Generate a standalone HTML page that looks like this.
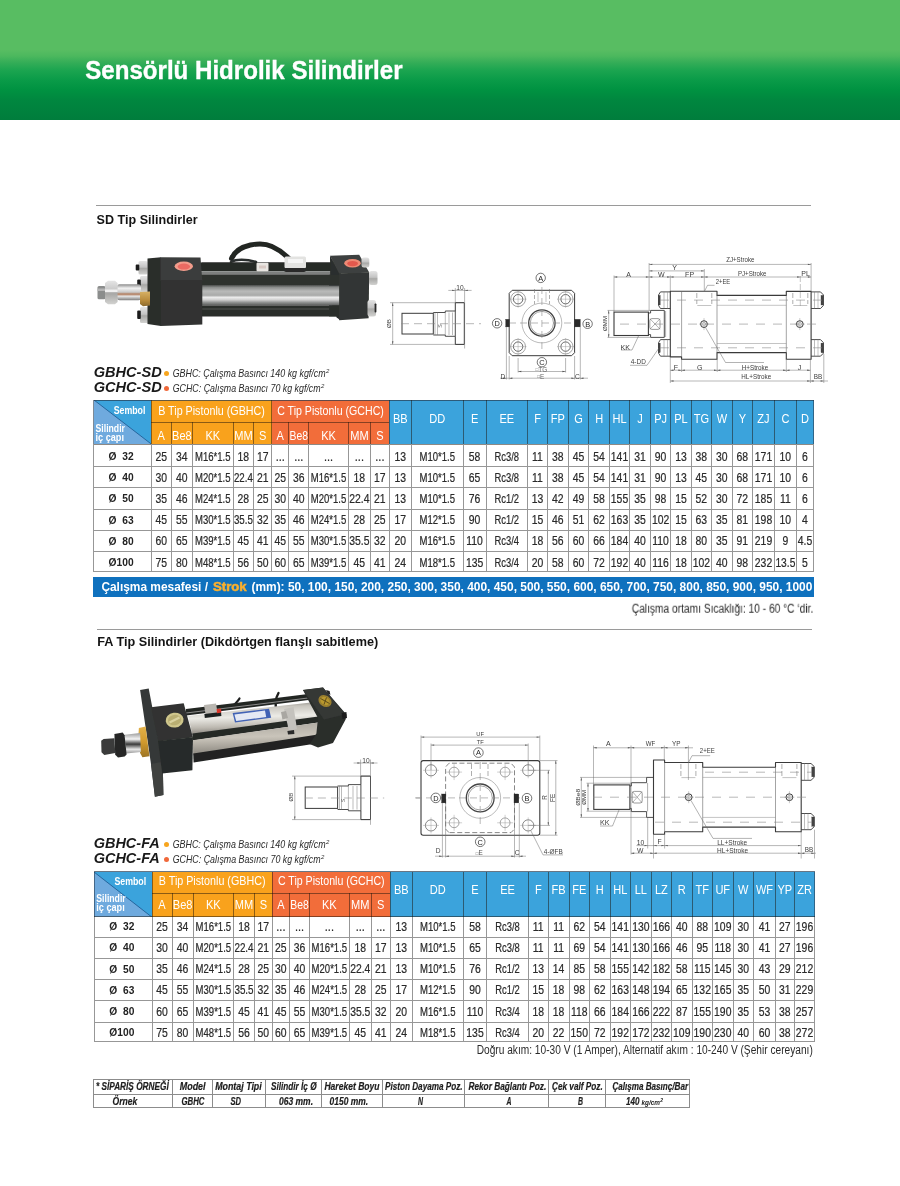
<!DOCTYPE html>
<html lang="tr">
<head>
<meta charset="utf-8">
<title>Sensörlü Hidrolik Silindirler</title>
<style>
html,body{margin:0;padding:0;background:#fff;}
body{width:900px;height:1186px;position:relative;overflow:hidden;font-family:"Liberation Sans",sans-serif;}
.t{position:absolute;white-space:nowrap;display:block;}
.b{position:absolute;display:block;}
.hdr{position:absolute;left:0;top:0;width:900px;height:120px;background:linear-gradient(to bottom,#58bd62 0px,#58bd62 50px,#4cb85e 56px,#36ae58 62px,#1ca550 70px,#0a9b48 80px,#009241 90px,#00873f 100px,#007d3c 120px);}
svg text{font-family:"Liberation Sans",sans-serif;}
.g{will-change:transform;}
.n{-webkit-text-stroke:0.22px #2a2a2a;}
.page{position:absolute;left:0;top:0;width:900px;height:1186px;overflow:hidden;background:#fff;}
</style>
</head>
<body>
<div class="page g">
<div class="hdr"></div>

<h1 style="margin:0;font-weight:normal"><span class="t" style="left:85px;top:54px;font-size:25.4px;line-height:30px;color:#fff;font-weight:bold;transform:translate(0.20px,0.50px) scaleX(0.949);transform-origin:0 0;-webkit-text-stroke:0.35px #fff;">Sensörlü Hidrolik Silindirler</span></h1>
<div class="b" style="left:96.00px;top:204.80px;width:715.00px;height:1.00px;background:#9a9a9a;"></div>
<span class="t" style="left:96px;top:211px;font-size:13px;line-height:16px;color:#141414;font-weight:bold;transform:translate(0.60px,0.50px) scaleX(0.966);transform-origin:0 0;">SD Tip Silindirler</span>
<svg class="b" style="left:0;top:0" width="900" height="1186" viewBox="0 0 900 1186">
<defs>
<filter id="bl1" x="-5%" y="-10%" width="110%" height="120%"><feGaussianBlur stdDeviation="0.55"/></filter>
<linearGradient id="tube1" x1="0" y1="0" x2="0" y2="1">
<stop offset="0" stop-color="#4a4c4b"/><stop offset="0.12" stop-color="#8c8e8d"/><stop offset="0.3" stop-color="#b9bab9"/><stop offset="0.5" stop-color="#a9aaa9"/><stop offset="0.6" stop-color="#ececec"/><stop offset="0.72" stop-color="#d0d0d0"/><stop offset="0.85" stop-color="#8f9190"/><stop offset="1" stop-color="#555756"/></linearGradient>
<linearGradient id="chr1" x1="0" y1="0" x2="0" y2="1">
<stop offset="0" stop-color="#8a8a8a"/><stop offset="0.25" stop-color="#f2f2f2"/><stop offset="0.5" stop-color="#c9c9c9"/><stop offset="0.62" stop-color="#b07a5a"/><stop offset="0.75" stop-color="#e6e6e6"/><stop offset="1" stop-color="#7d7d7d"/></linearGradient>
<linearGradient id="nut1" x1="0" y1="0" x2="0" y2="1">
<stop offset="0" stop-color="#e4e4e4"/><stop offset="0.45" stop-color="#c4c4c4"/><stop offset="0.55" stop-color="#a8a8a6"/><stop offset="1" stop-color="#d2d2d0"/></linearGradient>
<linearGradient id="brs1" x1="0" y1="0" x2="0" y2="1">
<stop offset="0" stop-color="#d8b266"/><stop offset="0.6" stop-color="#b98b3c"/><stop offset="1" stop-color="#8c6a2c"/></linearGradient>
</defs>
<g filter="url(#bl1)">
<path d="M231.5 258.5 C 238 243.5, 262 241.5, 272 246.5 C 281 250.5, 285 255, 288.5 258" fill="none" stroke="#232524" stroke-width="5" stroke-linecap="round"/>
<path d="M231 262 C 236 259, 246 259, 256 262" fill="none" stroke="#2c2e2d" stroke-width="2.6" stroke-linecap="round"/>
<rect x="200.0" y="262.2" width="135.0" height="9.1" rx="2.0" fill="#262927" />
<rect x="200.0" y="271.3" width="136.0" height="4.2" rx="0.0" fill="#7d7f7e" />
<rect x="200.0" y="274.8" width="138.0" height="11.0" rx="0.0" fill="#2e312f" />
<rect x="201.0" y="285.0" width="139.0" height="20.6" rx="0.0" fill="url(#tube1)" />
<rect x="201.0" y="305.4" width="139.0" height="11.0" rx="1.5" fill="#2a2d2b" />
<rect x="201.0" y="308.0" width="139.0" height="2.0" rx="0.0" fill="#3c3f3d" />
<rect x="256.5" y="262.8" width="12.0" height="8.4" rx="1.0" fill="#e9e6e2" />
<rect x="259.0" y="265.5" width="7.0" height="3.0" rx="0.0" fill="#d8c9c4" />
<rect x="284.5" y="256.5" width="21.5" height="11.8" rx="1.5" fill="#e3e3e1" />
<rect x="288.0" y="259.0" width="15.0" height="4.0" rx="0.0" fill="#f5f5f5" />
<rect x="284.0" y="268.0" width="22.0" height="4.0" rx="2.0" fill="#2a2c2b" />
<rect x="138.5" y="261.0" width="9.0" height="13.5" rx="1.5" fill="url(#nut1)" />
<rect x="135.7" y="264.5" width="3.6" height="6.0" rx="1.0" fill="#1e1f1f" />
<rect x="140.0" y="276.0" width="8.5" height="16.0" rx="1.5" fill="url(#nut1)" />
<rect x="137.2" y="279.5" width="3.6" height="8.5" rx="1.0" fill="#1e1f1f" />
<rect x="140.0" y="307.0" width="8.5" height="16.0" rx="1.5" fill="url(#nut1)" />
<rect x="137.2" y="310.5" width="3.6" height="8.5" rx="1.0" fill="#1e1f1f" />
<polygon points="147.5,258.5 161.0,257.3 161.0,326.0 147.5,324.0" fill="#2a2d2b" />
<polygon points="160.6,257.3 200.5,257.5 202.3,281.0 160.6,281.0" fill="#3b3e3c" />
<polygon points="160.6,280.0 202.3,280.0 202.3,324.5 160.6,326.0" fill="#303331" />
<ellipse cx="183.8" cy="266.3" rx="9.2" ry="4.7" fill="#f29c8c" />
<ellipse cx="183.9" cy="266.6" rx="6.2" ry="3.0" fill="#ea6a62" />
<polygon points="330.0,255.8 340.8,273.3 340.0,320.0 336.7,317.5 330.3,300.0" fill="#2c2f2d" />
<rect x="329.0" y="285.0" width="10.6" height="20.6" rx="0.0" fill="url(#tube1)" />
<rect x="329.0" y="305.4" width="10.6" height="11.0" rx="0.0" fill="#2a2d2b" />
<rect x="329.0" y="274.8" width="10.6" height="10.8" rx="0.0" fill="#2e312f" />
<polygon points="339.2,273.3 369.2,272.5 368.6,318.3 339.2,320.2" fill="#333634" />
<polygon points="330.0,255.8 359.2,254.7 369.4,272.7 339.2,273.6" fill="#3e413f" />
<ellipse cx="352.5" cy="263.3" rx="8.3" ry="4.2" fill="#ee8a74" />
<ellipse cx="352.6" cy="263.6" rx="5.4" ry="2.6" fill="#e3584e" />
<rect x="361.5" y="257.5" width="7.8" height="10.0" rx="2.5" fill="url(#nut1)" />
<rect x="369.0" y="271.0" width="8.5" height="14.0" rx="2.5" fill="url(#nut1)" />
<rect x="367.5" y="300.0" width="8.5" height="16.5" rx="2.5" fill="url(#nut1)" />
<rect x="374.6" y="303.5" width="1.8" height="9.0" rx="0.8" fill="#2a2a2a" />
<rect x="117.0" y="284.2" width="24.0" height="16.0" rx="2.5" fill="url(#chr1)" />
<rect x="97.5" y="286.0" width="8.0" height="13.3" rx="1.5" fill="#8b8d8c" />
<rect x="97.5" y="288.5" width="8.0" height="2.5" rx="0.0" fill="#b5b5b5" />
<polygon points="105.0,283.0 108.0,280.8 115.0,280.8 117.6,283.0 117.6,302.0 115.0,304.2 108.0,304.2 105.0,302.0" fill="url(#nut1)" />
<rect x="105.0" y="289.5" width="12.6" height="2.5" rx="0.0" fill="#f0f0f0" />
<polygon points="140.0,292.0 150.0,291.4 150.0,305.5 143.0,306.2 140.0,304.0" fill="url(#brs1)" />
</g>
</svg>
<svg class="b g" style="left:0;top:0" width="900" height="1186" viewBox="0 0 900 1186" >
<line x1="390.0" y1="302.7" x2="464.0" y2="302.7" stroke="#6e6e6e" stroke-width="0.50"/>
<line x1="390.0" y1="344.4" x2="464.0" y2="344.4" stroke="#6e6e6e" stroke-width="0.50"/>
<line x1="392.7" y1="302.7" x2="392.7" y2="344.4" stroke="#6e6e6e" stroke-width="0.50"/>
<polygon points="392.7,302.7 392.0,305.9 393.4,305.9" fill="#555"/>
<polygon points="392.7,344.4 392.0,341.2 393.4,341.2" fill="#555"/>
<text x="390.6" y="323.5" font-size="6.2" text-anchor="middle" fill="#3c3c3c" transform="rotate(-90 390.6 323.5)">ØB</text>
<rect x="402.0" y="313.3" width="31.3" height="20.7" rx="0.0" fill="none" stroke="#3a3a3a" stroke-width="1.00"/>
<polyline points="433.3,312.5 445.3,312.5 445.3,311.0 455.3,311.0 455.3,336.3 445.3,336.3 445.3,335.0 433.3,335.0" fill="none" stroke="#3a3a3a" stroke-width="0.90" stroke-linejoin="round"/>
<line x1="435.0" y1="312.5" x2="435.0" y2="335.0" stroke="#777" stroke-width="0.50"/>
<line x1="437.5" y1="312.5" x2="437.5" y2="335.0" stroke="#777" stroke-width="0.50"/>
<line x1="445.3" y1="312.5" x2="445.3" y2="335.0" stroke="#777" stroke-width="0.50"/>
<line x1="449.0" y1="312.5" x2="449.0" y2="335.0" stroke="#777" stroke-width="0.50"/>
<line x1="452.5" y1="312.5" x2="452.5" y2="335.0" stroke="#777" stroke-width="0.50"/>
<polyline points="455.3,311.0 455.3,302.7 464.3,302.7 464.3,344.4 455.3,344.4 455.3,336.3" fill="none" stroke="#3a3a3a" stroke-width="1.00" stroke-linejoin="round"/>
<line x1="455.3" y1="288.0" x2="455.3" y2="302.7" stroke="#6e6e6e" stroke-width="0.50"/>
<line x1="464.6" y1="288.0" x2="464.6" y2="348.5" stroke="#6e6e6e" stroke-width="0.50"/>
<line x1="448.3" y1="290.4" x2="471.6" y2="290.4" stroke="#6e6e6e" stroke-width="0.50"/>
<polygon points="455.3,290.4 452.1,289.7 452.1,291.1" fill="#555"/>
<polygon points="464.6,290.4 467.8,289.7 467.8,291.1" fill="#555"/>
<text x="460.0" y="289.9" font-size="6.6" text-anchor="middle" fill="#3c3c3c">10</text>
<line x1="401.0" y1="323.7" x2="481.0" y2="323.7" stroke="#888" stroke-width="0.60" stroke-dasharray="8 5"/>
<text x="441.5" y="326.0" font-size="5.2" text-anchor="middle" fill="#555" transform="rotate(-90 441.5 326.0)">S</text>
<polygon points="512.2,290.3 571.6,290.3 574.6,293.3 574.6,352.7 571.6,355.7 512.2,355.7 509.2,352.7 509.2,293.3" fill="none" stroke="#3a3a3a" stroke-width="1.00" stroke-linejoin="round"/>
<circle cx="518.1" cy="299.2" r="7.4" fill="none" stroke="#666" stroke-width="0.60"/>
<circle cx="518.1" cy="299.2" r="4.7" fill="none" stroke="#444" stroke-width="0.80"/>
<line x1="509.6" y1="299.2" x2="526.6" y2="299.2" stroke="#888" stroke-width="0.40"/>
<line x1="518.1" y1="290.7" x2="518.1" y2="307.7" stroke="#888" stroke-width="0.40"/>
<circle cx="565.6" cy="299.2" r="7.4" fill="none" stroke="#666" stroke-width="0.60"/>
<circle cx="565.6" cy="299.2" r="4.7" fill="none" stroke="#444" stroke-width="0.80"/>
<line x1="557.1" y1="299.2" x2="574.1" y2="299.2" stroke="#888" stroke-width="0.40"/>
<line x1="565.6" y1="290.7" x2="565.6" y2="307.7" stroke="#888" stroke-width="0.40"/>
<circle cx="518.1" cy="346.6" r="7.4" fill="none" stroke="#666" stroke-width="0.60"/>
<circle cx="518.1" cy="346.6" r="4.7" fill="none" stroke="#444" stroke-width="0.80"/>
<line x1="509.6" y1="346.6" x2="526.6" y2="346.6" stroke="#888" stroke-width="0.40"/>
<line x1="518.1" y1="338.1" x2="518.1" y2="355.1" stroke="#888" stroke-width="0.40"/>
<circle cx="565.6" cy="346.6" r="7.4" fill="none" stroke="#666" stroke-width="0.60"/>
<circle cx="565.6" cy="346.6" r="4.7" fill="none" stroke="#444" stroke-width="0.80"/>
<line x1="557.1" y1="346.6" x2="574.1" y2="346.6" stroke="#888" stroke-width="0.40"/>
<line x1="565.6" y1="338.1" x2="565.6" y2="355.1" stroke="#888" stroke-width="0.40"/>
<circle cx="541.9" cy="323.0" r="19.9" fill="none" stroke="#777" stroke-width="0.50"/>
<circle cx="541.9" cy="323.0" r="13.2" fill="none" stroke="#444" stroke-width="1.30"/>
<circle cx="541.9" cy="323.0" r="11.6" fill="none" stroke="#666" stroke-width="0.60"/>
<line x1="509.0" y1="323.0" x2="575.0" y2="323.0" stroke="#888" stroke-width="0.60" stroke-dasharray="7 4"/>
<line x1="541.9" y1="287.0" x2="541.9" y2="352.0" stroke="#888" stroke-width="0.60" stroke-dasharray="7 4"/>
<line x1="534.5" y1="289.0" x2="534.5" y2="304.0" stroke="#777" stroke-width="0.60" stroke-dasharray="4 2"/>
<line x1="549.5" y1="289.0" x2="549.5" y2="304.0" stroke="#777" stroke-width="0.60" stroke-dasharray="4 2"/>
<line x1="538.0" y1="292.0" x2="538.0" y2="302.0" stroke="#888" stroke-width="0.50"/>
<line x1="546.0" y1="292.0" x2="546.0" y2="302.0" stroke="#888" stroke-width="0.50"/>
<rect x="505.7" y="319.3" width="3.7" height="7.6" rx="0.0" fill="#2a2a2a" stroke="#222" stroke-width="0.30"/>
<rect x="574.8" y="319.3" width="5.5" height="7.6" rx="0.0" fill="#2a2a2a" stroke="#222" stroke-width="0.30"/>
<circle cx="540.7" cy="277.9" r="4.7" fill="#fff" stroke="#3a3a3a" stroke-width="0.70"/>
<text x="540.7" y="280.6" font-size="7.4" text-anchor="middle" fill="#222">A</text>
<circle cx="497.1" cy="323.3" r="4.7" fill="#fff" stroke="#3a3a3a" stroke-width="0.70"/>
<text x="497.1" y="326.0" font-size="7.4" text-anchor="middle" fill="#222">D</text>
<circle cx="587.6" cy="323.8" r="4.7" fill="#fff" stroke="#3a3a3a" stroke-width="0.70"/>
<text x="587.6" y="326.5" font-size="7.4" text-anchor="middle" fill="#222">B</text>
<circle cx="541.9" cy="362.2" r="4.7" fill="#fff" stroke="#3a3a3a" stroke-width="0.70"/>
<text x="541.9" y="364.9" font-size="7.4" text-anchor="middle" fill="#222">C</text>
<line x1="518.1" y1="358.0" x2="518.1" y2="372.5" stroke="#6e6e6e" stroke-width="0.50"/>
<line x1="565.6" y1="358.0" x2="565.6" y2="372.5" stroke="#6e6e6e" stroke-width="0.50"/>
<line x1="509.2" y1="356.0" x2="509.2" y2="379.5" stroke="#6e6e6e" stroke-width="0.50"/>
<line x1="574.6" y1="356.0" x2="574.6" y2="379.5" stroke="#6e6e6e" stroke-width="0.50"/>
<line x1="506.4" y1="327.0" x2="506.4" y2="379.5" stroke="#6e6e6e" stroke-width="0.50"/>
<line x1="580.3" y1="327.0" x2="580.3" y2="379.5" stroke="#6e6e6e" stroke-width="0.50"/>
<line x1="518.1" y1="371.5" x2="565.6" y2="371.5" stroke="#6e6e6e" stroke-width="0.50"/>
<polygon points="518.1,371.5 521.3,370.8 521.3,372.2" fill="#555"/>
<polygon points="565.6,371.5 562.4,370.8 562.4,372.2" fill="#555"/>
<line x1="500.0" y1="378.2" x2="588.0" y2="378.2" stroke="#6e6e6e" stroke-width="0.50"/>
<polygon points="509.2,378.2 512.4,377.5 512.4,378.9" fill="#555"/>
<polygon points="574.6,378.2 571.4,377.5 571.4,378.9" fill="#555"/>
<polygon points="506.4,378.2 503.2,377.5 503.2,378.9" fill="#555"/>
<polygon points="580.3,378.2 583.5,377.5 583.5,378.9" fill="#555"/>
<text x="541.4" y="371.9" font-size="6.4" text-anchor="middle" fill="#666"><tspan font-size="4.6" dy="-0.6">□</tspan><tspan dy="0.6">TG</tspan></text>
<text x="540.7" y="378.5" font-size="6.4" text-anchor="middle" fill="#666"><tspan font-size="4.6" dy="-0.6">□</tspan><tspan dy="0.6">E</tspan></text>
<text x="503.0" y="378.5" font-size="6.6" text-anchor="middle" fill="#3c3c3c">D</text>
<text x="577.4" y="378.7" font-size="6.6" text-anchor="middle" fill="#3c3c3c">C</text>
<rect x="614.0" y="312.1" width="34.4" height="23.4" rx="0.0" fill="none" stroke="#3a3a3a" stroke-width="1.10"/>
<line x1="607.5" y1="310.4" x2="650.0" y2="310.4" stroke="#6e6e6e" stroke-width="0.50"/>
<line x1="607.5" y1="337.4" x2="650.0" y2="337.4" stroke="#6e6e6e" stroke-width="0.50"/>
<line x1="608.7" y1="310.4" x2="608.7" y2="337.4" stroke="#6e6e6e" stroke-width="0.50"/>
<polygon points="608.7,310.4 608.0,313.6 609.4,313.6" fill="#555"/>
<polygon points="608.7,337.4 608.0,334.2 609.4,334.2" fill="#555"/>
<text x="606.6" y="323.5" font-size="5.8" text-anchor="middle" fill="#3c3c3c" textLength="15.0" lengthAdjust="spacingAndGlyphs" transform="rotate(-90 606.6 323.5)">ØMM</text>
<polyline points="648.4,313.0 650.6,313.0 650.6,310.4 664.3,310.4 664.3,337.4 650.6,337.4 650.6,334.6 648.4,334.6" fill="none" stroke="#3a3a3a" stroke-width="0.90" stroke-linejoin="round"/>
<rect x="649.8" y="318.6" width="10.2" height="10.8" rx="2.0" fill="none" stroke="#555" stroke-width="0.60"/>
<line x1="650.0" y1="318.8" x2="660.0" y2="329.2" stroke="#666" stroke-width="0.50"/>
<line x1="650.0" y1="329.2" x2="660.0" y2="318.8" stroke="#666" stroke-width="0.50"/>
<line x1="665.6" y1="311.0" x2="665.6" y2="337.0" stroke="#777" stroke-width="0.60"/>
<polygon points="670.3,291.2 717.0,291.2 717.0,295.4 786.3,295.4 786.3,291.4 811.1,291.4 811.1,359.2 786.3,359.2 786.3,352.6 717.0,352.6 717.0,359.2 681.6,359.2 681.6,356.9 670.3,356.9" fill="none" stroke="#3a3a3a" stroke-width="1.10" stroke-linejoin="round"/>
<line x1="681.6" y1="291.2" x2="681.6" y2="356.9" stroke="#666" stroke-width="0.60"/>
<line x1="717.0" y1="295.4" x2="717.0" y2="352.6" stroke="#666" stroke-width="0.60"/>
<line x1="786.3" y1="295.4" x2="786.3" y2="352.6" stroke="#666" stroke-width="0.60"/>
<line x1="717.0" y1="305.3" x2="786.3" y2="305.3" stroke="#888" stroke-width="0.50"/>
<line x1="717.0" y1="343.5" x2="786.3" y2="343.5" stroke="#888" stroke-width="0.50"/>
<polyline points="670.3,291.9 660.5,291.9 658.6,294.9 658.6,305.5 660.5,308.5 670.3,308.5" fill="none" stroke="#3a3a3a" stroke-width="0.90" stroke-linejoin="round"/>
<rect x="658.3" y="295.4" width="1.9" height="9.6" rx="0.0" fill="#444" stroke="#333" stroke-width="0.30"/>
<line x1="664.0" y1="291.9" x2="664.0" y2="308.5" stroke="#777" stroke-width="0.50"/>
<line x1="667.5" y1="291.9" x2="667.5" y2="308.5" stroke="#888" stroke-width="0.50"/>
<polyline points="811.1,291.9 820.5,291.9 823.4,294.9 823.4,305.5 820.5,308.5 811.1,308.5" fill="none" stroke="#3a3a3a" stroke-width="0.90" stroke-linejoin="round"/>
<rect x="821.0" y="295.4" width="2.4" height="9.6" rx="0.0" fill="#444" stroke="#333" stroke-width="0.30"/>
<line x1="814.5" y1="291.9" x2="814.5" y2="308.5" stroke="#777" stroke-width="0.50"/>
<line x1="818.0" y1="291.9" x2="818.0" y2="308.5" stroke="#888" stroke-width="0.50"/>
<polyline points="670.3,339.6 660.5,339.6 658.6,342.6 658.6,353.2 660.5,356.2 670.3,356.2" fill="none" stroke="#3a3a3a" stroke-width="0.90" stroke-linejoin="round"/>
<rect x="658.3" y="343.1" width="1.9" height="9.6" rx="0.0" fill="#444" stroke="#333" stroke-width="0.30"/>
<line x1="664.0" y1="339.6" x2="664.0" y2="356.2" stroke="#777" stroke-width="0.50"/>
<line x1="667.5" y1="339.6" x2="667.5" y2="356.2" stroke="#888" stroke-width="0.50"/>
<polyline points="811.1,339.6 820.5,339.6 823.4,342.6 823.4,353.2 820.5,356.2 811.1,356.2" fill="none" stroke="#3a3a3a" stroke-width="0.90" stroke-linejoin="round"/>
<rect x="821.0" y="343.1" width="2.4" height="9.6" rx="0.0" fill="#444" stroke="#333" stroke-width="0.30"/>
<line x1="814.5" y1="339.6" x2="814.5" y2="356.2" stroke="#777" stroke-width="0.50"/>
<line x1="818.0" y1="339.6" x2="818.0" y2="356.2" stroke="#888" stroke-width="0.50"/>
<circle cx="704.0" cy="324.1" r="3.4" fill="none" stroke="#3a3a3a" stroke-width="1.00"/>
<circle cx="704.0" cy="324.1" r="1.8" fill="none" stroke="#777" stroke-width="0.40"/>
<line x1="704.0" y1="318.1" x2="704.0" y2="330.1" stroke="#777" stroke-width="0.40"/>
<line x1="699.0" y1="324.1" x2="709.0" y2="324.1" stroke="#777" stroke-width="0.40"/>
<circle cx="799.8" cy="324.1" r="3.4" fill="none" stroke="#3a3a3a" stroke-width="1.00"/>
<circle cx="799.8" cy="324.1" r="1.8" fill="none" stroke="#777" stroke-width="0.40"/>
<line x1="799.8" y1="318.1" x2="799.8" y2="330.1" stroke="#777" stroke-width="0.40"/>
<line x1="794.8" y1="324.1" x2="804.8" y2="324.1" stroke="#777" stroke-width="0.40"/>
<line x1="696.8" y1="293.0" x2="696.8" y2="304.0" stroke="#777" stroke-width="0.60" stroke-dasharray="5 2"/>
<line x1="711.8" y1="293.0" x2="711.8" y2="304.0" stroke="#777" stroke-width="0.60" stroke-dasharray="5 2"/>
<line x1="697.3" y1="305.5" x2="711.3" y2="305.5" stroke="#888" stroke-width="0.50"/>
<line x1="792.8" y1="293.0" x2="792.8" y2="304.0" stroke="#777" stroke-width="0.60" stroke-dasharray="5 2"/>
<line x1="807.8" y1="293.0" x2="807.8" y2="304.0" stroke="#777" stroke-width="0.60" stroke-dasharray="5 2"/>
<line x1="793.3" y1="305.5" x2="807.3" y2="305.5" stroke="#888" stroke-width="0.50"/>
<line x1="620.0" y1="324.1" x2="816.0" y2="324.1" stroke="#888" stroke-width="0.60" stroke-dasharray="9 8"/>
<line x1="660.0" y1="300.1" x2="822.0" y2="300.1" stroke="#888" stroke-width="0.60" stroke-dasharray="9 8"/>
<line x1="660.0" y1="347.8" x2="822.0" y2="347.8" stroke="#888" stroke-width="0.60" stroke-dasharray="9 8"/>
<line x1="614.0" y1="275.5" x2="614.0" y2="312.0" stroke="#6e6e6e" stroke-width="0.50"/>
<line x1="649.1" y1="263.0" x2="649.1" y2="310.4" stroke="#6e6e6e" stroke-width="0.50"/>
<line x1="670.3" y1="275.5" x2="670.3" y2="291.0" stroke="#6e6e6e" stroke-width="0.50"/>
<line x1="704.3" y1="269.0" x2="704.3" y2="291.0" stroke="#6e6e6e" stroke-width="0.50"/>
<line x1="811.1" y1="263.0" x2="811.1" y2="291.4" stroke="#6e6e6e" stroke-width="0.50"/>
<line x1="800.3" y1="276.0" x2="800.3" y2="308.0" stroke="#888" stroke-width="0.50" stroke-dasharray="6 2"/>
<line x1="614.0" y1="277.0" x2="811.1" y2="277.0" stroke="#6e6e6e" stroke-width="0.50"/>
<polygon points="614.0,277.0 617.2,276.3 617.2,277.7" fill="#555"/>
<polygon points="649.1,277.0 645.9,276.3 645.9,277.7" fill="#555"/>
<polygon points="649.1,277.0 652.3,276.3 652.3,277.7" fill="#555"/>
<polygon points="670.3,277.0 667.1,276.3 667.1,277.7" fill="#555"/>
<polygon points="670.3,277.0 673.5,276.3 673.5,277.7" fill="#555"/>
<polygon points="704.3,277.0 701.1,276.3 701.1,277.7" fill="#555"/>
<polygon points="704.3,277.0 707.5,276.3 707.5,277.7" fill="#555"/>
<polygon points="811.1,277.0 807.9,276.3 807.9,277.7" fill="#555"/>
<polygon points="800.3,277.0 797.1,276.3 797.1,277.7" fill="#555"/>
<line x1="649.1" y1="270.9" x2="704.3" y2="270.9" stroke="#6e6e6e" stroke-width="0.50"/>
<polygon points="649.1,270.9 652.3,270.2 652.3,271.6" fill="#555"/>
<polygon points="704.3,270.9 701.1,270.2 701.1,271.6" fill="#555"/>
<line x1="649.1" y1="264.4" x2="811.1" y2="264.4" stroke="#6e6e6e" stroke-width="0.50"/>
<polygon points="649.1,264.4 652.3,263.7 652.3,265.1" fill="#555"/>
<polygon points="811.1,264.4 807.9,263.7 807.9,265.1" fill="#555"/>
<text x="628.5" y="276.5" font-size="7.0" text-anchor="middle" fill="#3c3c3c">A</text>
<text x="661.4" y="276.5" font-size="7.0" text-anchor="middle" fill="#3c3c3c">W</text>
<text x="689.6" y="276.5" font-size="7.0" text-anchor="middle" fill="#3c3c3c">FP</text>
<text x="674.7" y="270.3" font-size="7.0" text-anchor="middle" fill="#3c3c3c">Y</text>
<text x="740.3" y="262.1" font-size="7.0" text-anchor="middle" fill="#3c3c3c" textLength="28.2" lengthAdjust="spacingAndGlyphs">ZJ+Stroke</text>
<text x="752.2" y="276.2" font-size="7.0" text-anchor="middle" fill="#3c3c3c" textLength="28.6" lengthAdjust="spacingAndGlyphs">PJ+Stroke</text>
<text x="805.6" y="276.2" font-size="7.0" text-anchor="middle" fill="#3c3c3c">PL</text>
<text x="723.0" y="284.2" font-size="6.8" text-anchor="middle" fill="#3c3c3c" textLength="14.5" lengthAdjust="spacingAndGlyphs">2+EE</text>
<polyline points="704.6,291.0 707.5,285.3 714.5,285.3" fill="none" stroke="#666" stroke-width="0.50" stroke-linejoin="round"/>
<line x1="670.3" y1="357.0" x2="670.3" y2="383.0" stroke="#6e6e6e" stroke-width="0.50"/>
<line x1="681.6" y1="359.2" x2="681.6" y2="372.0" stroke="#6e6e6e" stroke-width="0.50"/>
<line x1="717.2" y1="359.3" x2="717.2" y2="372.0" stroke="#6e6e6e" stroke-width="0.50"/>
<line x1="786.3" y1="359.3" x2="786.3" y2="372.0" stroke="#6e6e6e" stroke-width="0.50"/>
<line x1="810.4" y1="359.3" x2="810.4" y2="383.0" stroke="#6e6e6e" stroke-width="0.50"/>
<line x1="823.8" y1="354.0" x2="823.8" y2="383.0" stroke="#6e6e6e" stroke-width="0.50"/>
<line x1="670.3" y1="370.2" x2="810.4" y2="370.2" stroke="#6e6e6e" stroke-width="0.50"/>
<polygon points="670.3,370.2 673.5,369.5 673.5,370.9" fill="#555"/>
<polygon points="681.6,370.2 678.4,369.5 678.4,370.9" fill="#555"/>
<polygon points="681.6,370.2 684.8,369.5 684.8,370.9" fill="#555"/>
<polygon points="717.2,370.2 714.0,369.5 714.0,370.9" fill="#555"/>
<polygon points="717.2,370.2 720.4,369.5 720.4,370.9" fill="#555"/>
<polygon points="786.3,370.2 783.1,369.5 783.1,370.9" fill="#555"/>
<polygon points="786.3,370.2 789.5,369.5 789.5,370.9" fill="#555"/>
<polygon points="810.4,370.2 807.2,369.5 807.2,370.9" fill="#555"/>
<line x1="670.3" y1="381.0" x2="828.0" y2="381.0" stroke="#6e6e6e" stroke-width="0.50"/>
<polygon points="670.3,381.0 673.5,380.3 673.5,381.7" fill="#555"/>
<polygon points="810.4,381.0 807.2,380.3 807.2,381.7" fill="#555"/>
<polygon points="810.4,381.0 813.6,380.3 813.6,381.7" fill="#555"/>
<polygon points="823.8,381.0 820.6,380.3 820.6,381.7" fill="#555"/>
<text x="675.8" y="370.1" font-size="7.0" text-anchor="middle" fill="#3c3c3c">F</text>
<text x="699.7" y="370.1" font-size="7.0" text-anchor="middle" fill="#3c3c3c">G</text>
<text x="755.0" y="369.5" font-size="7.0" text-anchor="middle" fill="#3c3c3c" textLength="26.5" lengthAdjust="spacingAndGlyphs">H+Stroke</text>
<text x="799.6" y="369.9" font-size="7.0" text-anchor="middle" fill="#3c3c3c">J</text>
<text x="756.2" y="378.5" font-size="7.0" text-anchor="middle" fill="#3c3c3c" textLength="30.0" lengthAdjust="spacingAndGlyphs">HL+Stroke</text>
<text x="818.0" y="379.4" font-size="6.6" text-anchor="middle" fill="#3c3c3c" textLength="8.5" lengthAdjust="spacingAndGlyphs">BB</text>
<polyline points="638.5,336.0 632.0,350.0 621.0,350.0" fill="none" stroke="#666" stroke-width="0.50" stroke-linejoin="round"/>
<text x="625.3" y="350.4" font-size="6.8" text-anchor="middle" fill="#3c3c3c" textLength="9.5" lengthAdjust="spacingAndGlyphs">KK</text>
<polyline points="659.0,348.0 647.0,365.3 630.0,365.3" fill="none" stroke="#666" stroke-width="0.50" stroke-linejoin="round"/>
<text x="638.3" y="364.1" font-size="6.8" text-anchor="middle" fill="#3c3c3c" textLength="15.0" lengthAdjust="spacingAndGlyphs">4-DD</text>
<polyline points="705.5,327.5 725.5,362.5 764.0,362.5" fill="none" stroke="#666" stroke-width="0.50" stroke-linejoin="round"/>
</svg>
<span class="t" style="left:93px;top:363px;font-size:15.2px;line-height:18px;color:#1a1a1a;font-weight:bold;font-style:italic;transform:translate(0.70px,0.30px) scaleX(0.959);transform-origin:0 0;">GBHC-SD</span>
<span class="t" style="left:93px;top:378px;font-size:15.2px;line-height:18px;color:#1a1a1a;font-weight:bold;font-style:italic;transform:translate(0.70px,0.40px) scaleX(0.959);transform-origin:0 0;">GCHC-SD</span>
<div class="b" style="left:164.3px;top:371.1px;width:5px;height:5px;border-radius:50%;background:#f7a51e"></div>
<div class="b" style="left:164.3px;top:386.2px;width:5px;height:5px;border-radius:50%;background:#f0683a"></div>
<span class="t" style="left:172px;top:368px;font-size:10.3px;line-height:12px;color:#2a2a2a;font-style:italic;transform:translate(0.70px,0.30px) scaleX(0.862);transform-origin:0 0;">GBHC: Çalışma Basıncı 140 kg kgf/cm</span>
<span class="t" style="left:326px;top:368px;font-size:6px;line-height:7px;color:#2a2a2a;font-style:italic;transform:translate(0.00px,0.00px) scaleX(1.000);transform-origin:0 0;">2</span>
<span class="t" style="left:172px;top:383px;font-size:10.3px;line-height:12px;color:#2a2a2a;font-style:italic;transform:translate(0.70px,0.40px) scaleX(0.859);transform-origin:0 0;">GCHC: Çalışma Basıncı 70 kg kgf/cm</span>
<span class="t" style="left:321px;top:383px;font-size:6px;line-height:7px;color:#2a2a2a;font-style:italic;transform:translate(0.00px,0.10px) scaleX(1.000);transform-origin:0 0;">2</span>
<div class="tbl" id="t1">
<div class="b" style="left:93.50px;top:400.00px;width:57.75px;height:44.40px;background:#3ba3dc;"></div>
<svg class="b" style="left:93.50px;top:400.00px" width="57.75" height="44.40" viewBox="0 0 57.75 44.40"><polygon points="0,0 57.75,44.40 0,44.40" fill="#6faade"/><line x1="0" y1="0" x2="57.75" y2="44.40" stroke="#1f5f96" stroke-width="0.9"/></svg>
<div class="b" style="left:151.25px;top:400.00px;width:120.50px;height:44.40px;background:#f9a21c;"></div>
<div class="b" style="left:271.75px;top:400.00px;width:117.50px;height:44.40px;background:#f26d3a;"></div>
<div class="b" style="left:389.25px;top:400.00px;width:424.50px;height:44.40px;background:#3ba3dc;"></div>
<div class="b" style="left:93.50px;top:399.50px;width:720.25px;height:1.00px;background:rgba(40,60,80,0.7);"></div>
<div class="b" style="left:151.25px;top:421.50px;width:238.00px;height:1.00px;background:rgba(30,20,10,0.5);"></div>
<div class="b" style="left:93.00px;top:400.00px;width:1.00px;height:44.40px;background:rgba(40,60,80,0.6);"></div>
<div class="b" style="left:150.75px;top:400.00px;width:1.00px;height:44.40px;background:rgba(30,20,10,0.5);"></div>
<div class="b" style="left:170.75px;top:422.00px;width:1.00px;height:22.40px;background:rgba(30,20,10,0.5);"></div>
<div class="b" style="left:192.00px;top:422.00px;width:1.00px;height:22.40px;background:rgba(30,20,10,0.5);"></div>
<div class="b" style="left:232.50px;top:422.00px;width:1.00px;height:22.40px;background:rgba(30,20,10,0.5);"></div>
<div class="b" style="left:253.25px;top:422.00px;width:1.00px;height:22.40px;background:rgba(30,20,10,0.5);"></div>
<div class="b" style="left:271.25px;top:400.00px;width:1.00px;height:44.40px;background:rgba(30,20,10,0.5);"></div>
<div class="b" style="left:288.25px;top:422.00px;width:1.00px;height:22.40px;background:rgba(30,20,10,0.5);"></div>
<div class="b" style="left:308.25px;top:422.00px;width:1.00px;height:22.40px;background:rgba(30,20,10,0.5);"></div>
<div class="b" style="left:347.75px;top:422.00px;width:1.00px;height:22.40px;background:rgba(30,20,10,0.5);"></div>
<div class="b" style="left:370.00px;top:422.00px;width:1.00px;height:22.40px;background:rgba(30,20,10,0.5);"></div>
<div class="b" style="left:388.75px;top:400.00px;width:1.00px;height:44.40px;background:rgba(30,20,10,0.5);"></div>
<div class="b" style="left:410.75px;top:400.00px;width:1.00px;height:44.40px;background:rgba(30,20,10,0.5);"></div>
<div class="b" style="left:462.75px;top:400.00px;width:1.00px;height:44.40px;background:rgba(30,20,10,0.5);"></div>
<div class="b" style="left:485.50px;top:400.00px;width:1.00px;height:44.40px;background:rgba(30,20,10,0.5);"></div>
<div class="b" style="left:527.00px;top:400.00px;width:1.00px;height:44.40px;background:rgba(30,20,10,0.5);"></div>
<div class="b" style="left:547.00px;top:400.00px;width:1.00px;height:44.40px;background:rgba(30,20,10,0.5);"></div>
<div class="b" style="left:567.75px;top:400.00px;width:1.00px;height:44.40px;background:rgba(30,20,10,0.5);"></div>
<div class="b" style="left:588.25px;top:400.00px;width:1.00px;height:44.40px;background:rgba(30,20,10,0.5);"></div>
<div class="b" style="left:609.00px;top:400.00px;width:1.00px;height:44.40px;background:rgba(30,20,10,0.5);"></div>
<div class="b" style="left:629.00px;top:400.00px;width:1.00px;height:44.40px;background:rgba(30,20,10,0.5);"></div>
<div class="b" style="left:650.00px;top:400.00px;width:1.00px;height:44.40px;background:rgba(30,20,10,0.5);"></div>
<div class="b" style="left:670.25px;top:400.00px;width:1.00px;height:44.40px;background:rgba(30,20,10,0.5);"></div>
<div class="b" style="left:690.75px;top:400.00px;width:1.00px;height:44.40px;background:rgba(30,20,10,0.5);"></div>
<div class="b" style="left:711.00px;top:400.00px;width:1.00px;height:44.40px;background:rgba(30,20,10,0.5);"></div>
<div class="b" style="left:731.75px;top:400.00px;width:1.00px;height:44.40px;background:rgba(30,20,10,0.5);"></div>
<div class="b" style="left:752.00px;top:400.00px;width:1.00px;height:44.40px;background:rgba(30,20,10,0.5);"></div>
<div class="b" style="left:774.00px;top:400.00px;width:1.00px;height:44.40px;background:rgba(30,20,10,0.5);"></div>
<div class="b" style="left:795.75px;top:400.00px;width:1.00px;height:44.40px;background:rgba(30,20,10,0.5);"></div>
<div class="b" style="left:813.25px;top:400.00px;width:1.00px;height:44.40px;background:rgba(40,60,80,0.6);"></div>
<div class="b" style="left:93.50px;top:443.90px;width:720.25px;height:1.00px;background:rgba(30,20,10,0.5);"></div>
<div class="b" style="left:93.00px;top:444.40px;width:1.00px;height:127.00px;background:#979797;"></div>
<div class="b" style="left:150.75px;top:444.40px;width:1.00px;height:127.00px;background:#979797;"></div>
<div class="b" style="left:170.75px;top:444.40px;width:1.00px;height:127.00px;background:#979797;"></div>
<div class="b" style="left:192.00px;top:444.40px;width:1.00px;height:127.00px;background:#979797;"></div>
<div class="b" style="left:232.50px;top:444.40px;width:1.00px;height:127.00px;background:#979797;"></div>
<div class="b" style="left:253.25px;top:444.40px;width:1.00px;height:127.00px;background:#979797;"></div>
<div class="b" style="left:271.25px;top:444.40px;width:1.00px;height:127.00px;background:#979797;"></div>
<div class="b" style="left:288.25px;top:444.40px;width:1.00px;height:127.00px;background:#979797;"></div>
<div class="b" style="left:308.25px;top:444.40px;width:1.00px;height:127.00px;background:#979797;"></div>
<div class="b" style="left:347.75px;top:444.40px;width:1.00px;height:127.00px;background:#979797;"></div>
<div class="b" style="left:370.00px;top:444.40px;width:1.00px;height:127.00px;background:#979797;"></div>
<div class="b" style="left:388.75px;top:444.40px;width:1.00px;height:127.00px;background:#979797;"></div>
<div class="b" style="left:410.75px;top:444.40px;width:1.00px;height:127.00px;background:#979797;"></div>
<div class="b" style="left:462.75px;top:444.40px;width:1.00px;height:127.00px;background:#979797;"></div>
<div class="b" style="left:485.50px;top:444.40px;width:1.00px;height:127.00px;background:#979797;"></div>
<div class="b" style="left:527.00px;top:444.40px;width:1.00px;height:127.00px;background:#979797;"></div>
<div class="b" style="left:547.00px;top:444.40px;width:1.00px;height:127.00px;background:#979797;"></div>
<div class="b" style="left:567.75px;top:444.40px;width:1.00px;height:127.00px;background:#979797;"></div>
<div class="b" style="left:588.25px;top:444.40px;width:1.00px;height:127.00px;background:#979797;"></div>
<div class="b" style="left:609.00px;top:444.40px;width:1.00px;height:127.00px;background:#979797;"></div>
<div class="b" style="left:629.00px;top:444.40px;width:1.00px;height:127.00px;background:#979797;"></div>
<div class="b" style="left:650.00px;top:444.40px;width:1.00px;height:127.00px;background:#979797;"></div>
<div class="b" style="left:670.25px;top:444.40px;width:1.00px;height:127.00px;background:#979797;"></div>
<div class="b" style="left:690.75px;top:444.40px;width:1.00px;height:127.00px;background:#979797;"></div>
<div class="b" style="left:711.00px;top:444.40px;width:1.00px;height:127.00px;background:#979797;"></div>
<div class="b" style="left:731.75px;top:444.40px;width:1.00px;height:127.00px;background:#979797;"></div>
<div class="b" style="left:752.00px;top:444.40px;width:1.00px;height:127.00px;background:#979797;"></div>
<div class="b" style="left:774.00px;top:444.40px;width:1.00px;height:127.00px;background:#979797;"></div>
<div class="b" style="left:795.75px;top:444.40px;width:1.00px;height:127.00px;background:#979797;"></div>
<div class="b" style="left:813.25px;top:444.40px;width:1.00px;height:127.00px;background:#979797;"></div>
<div class="b" style="left:93.00px;top:466.20px;width:721.25px;height:1.00px;background:#979797;"></div>
<div class="b" style="left:93.00px;top:487.10px;width:721.25px;height:1.00px;background:#979797;"></div>
<div class="b" style="left:93.00px;top:508.50px;width:721.25px;height:1.00px;background:#979797;"></div>
<div class="b" style="left:93.00px;top:529.50px;width:721.25px;height:1.00px;background:#979797;"></div>
<div class="b" style="left:93.00px;top:550.70px;width:721.25px;height:1.00px;background:#979797;"></div>
<div class="b" style="left:93.00px;top:570.90px;width:721.25px;height:1.00px;background:#979797;"></div>
<span class="t" style="left:106px;top:404px;font-size:10.8px;line-height:13px;color:#fff;font-weight:bold;transform:translate(0.44px,0.20px) scaleX(0.815);transform-origin:100% 0;">Sembol</span>
<span class="t" style="left:95px;top:423px;font-size:10.3px;line-height:12px;color:#fff;font-weight:bold;transform:translate(0.50px,0.20px) scaleX(0.845);transform-origin:0 0;">Silindir</span>
<span class="t" style="left:95px;top:431px;font-size:10.3px;line-height:12px;color:#fff;font-weight:bold;transform:translate(0.50px,0.80px) scaleX(0.889);transform-origin:0 0;">iç çapı</span>
<span class="t" style="left:146px;top:402px;font-size:13px;line-height:16px;color:#fff;transform:translate(0.84px,0.80px) scaleX(0.825);transform-origin:50% 0;">B Tip Pistonlu (GBHC)</span>
<span class="t" style="left:265px;top:402px;font-size:13px;line-height:16px;color:#fff;transform:translate(0.12px,0.80px) scaleX(0.816);transform-origin:50% 0;">C Tip Pistonlu (GCHC)</span>
<span class="t" style="left:156px;top:427px;font-size:13px;line-height:16px;color:#fff;transform:translate(0.91px,0.60px) scaleX(0.850);transform-origin:50% 0;">A</span>
<span class="t" style="left:170px;top:427px;font-size:13px;line-height:16px;color:#fff;transform:translate(0.31px,0.60px) scaleX(0.850);transform-origin:50% 0;">Be8</span>
<span class="t" style="left:204px;top:427px;font-size:13px;line-height:16px;color:#fff;transform:translate(0.08px,0.60px) scaleX(0.850);transform-origin:50% 0;">KK</span>
<span class="t" style="left:232px;top:427px;font-size:13px;line-height:16px;color:#fff;transform:translate(0.55px,0.60px) scaleX(0.850);transform-origin:50% 0;">MM</span>
<span class="t" style="left:258px;top:427px;font-size:13px;line-height:16px;color:#fff;transform:translate(0.41px,0.60px) scaleX(0.850);transform-origin:50% 0;">S</span>
<span class="t" style="left:275px;top:427px;font-size:13px;line-height:16px;color:#fff;transform:translate(0.91px,0.60px) scaleX(0.850);transform-origin:50% 0;">A</span>
<span class="t" style="left:287px;top:427px;font-size:13px;line-height:16px;color:#fff;transform:translate(0.18px,0.60px) scaleX(0.800);transform-origin:50% 0;">Be8</span>
<span class="t" style="left:319px;top:427px;font-size:13px;line-height:16px;color:#fff;transform:translate(0.83px,0.60px) scaleX(0.850);transform-origin:50% 0;">KK</span>
<span class="t" style="left:348px;top:427px;font-size:13px;line-height:16px;color:#fff;transform:translate(0.55px,0.60px) scaleX(0.850);transform-origin:50% 0;">MM</span>
<span class="t" style="left:375px;top:427px;font-size:13px;line-height:16px;color:#fff;transform:translate(0.54px,0.60px) scaleX(0.850);transform-origin:50% 0;">S</span>
<span class="t" style="left:391px;top:411px;font-size:13px;line-height:16px;color:#fff;transform:translate(0.58px,0.40px) scaleX(0.850);transform-origin:50% 0;">BB</span>
<span class="t" style="left:427px;top:411px;font-size:13px;line-height:16px;color:#fff;transform:translate(0.86px,0.40px) scaleX(0.850);transform-origin:50% 0;">DD</span>
<span class="t" style="left:470px;top:411px;font-size:13px;line-height:16px;color:#fff;transform:translate(0.29px,0.40px) scaleX(0.850);transform-origin:50% 0;">E</span>
<span class="t" style="left:498px;top:411px;font-size:13px;line-height:16px;color:#fff;transform:translate(0.08px,0.40px) scaleX(0.850);transform-origin:50% 0;">EE</span>
<span class="t" style="left:533px;top:411px;font-size:13px;line-height:16px;color:#fff;transform:translate(0.53px,0.40px) scaleX(0.850);transform-origin:50% 0;">F</span>
<span class="t" style="left:549px;top:411px;font-size:13px;line-height:16px;color:#fff;transform:translate(0.57px,0.40px) scaleX(0.850);transform-origin:50% 0;">FP</span>
<span class="t" style="left:573px;top:411px;font-size:13px;line-height:16px;color:#fff;transform:translate(0.44px,0.40px) scaleX(0.850);transform-origin:50% 0;">G</span>
<span class="t" style="left:594px;top:411px;font-size:13px;line-height:16px;color:#fff;transform:translate(0.43px,0.40px) scaleX(0.850);transform-origin:50% 0;">H</span>
<span class="t" style="left:611px;top:411px;font-size:13px;line-height:16px;color:#fff;transform:translate(0.19px,0.40px) scaleX(0.850);transform-origin:50% 0;">HL</span>
<span class="t" style="left:636px;top:411px;font-size:13px;line-height:16px;color:#fff;transform:translate(0.75px,0.40px) scaleX(0.850);transform-origin:50% 0;">J</span>
<span class="t" style="left:653px;top:411px;font-size:13px;line-height:16px;color:#fff;transform:translate(0.04px,0.40px) scaleX(0.850);transform-origin:50% 0;">PJ</span>
<span class="t" style="left:673px;top:411px;font-size:13px;line-height:16px;color:#fff;transform:translate(0.05px,0.40px) scaleX(0.850);transform-origin:50% 0;">PL</span>
<span class="t" style="left:692px;top:411px;font-size:13px;line-height:16px;color:#fff;transform:translate(0.35px,0.40px) scaleX(0.850);transform-origin:50% 0;">TG</span>
<span class="t" style="left:715px;top:411px;font-size:13px;line-height:16px;color:#fff;transform:translate(0.74px,0.40px) scaleX(0.850);transform-origin:50% 0;">W</span>
<span class="t" style="left:738px;top:411px;font-size:13px;line-height:16px;color:#fff;transform:translate(0.04px,0.40px) scaleX(0.850);transform-origin:50% 0;">Y</span>
<span class="t" style="left:756px;top:411px;font-size:13px;line-height:16px;color:#fff;transform:translate(0.28px,0.40px) scaleX(0.850);transform-origin:50% 0;">ZJ</span>
<span class="t" style="left:780px;top:411px;font-size:13px;line-height:16px;color:#fff;transform:translate(0.68px,0.40px) scaleX(0.850);transform-origin:50% 0;">C</span>
<span class="t" style="left:800px;top:411px;font-size:13px;line-height:16px;color:#fff;transform:translate(0.31px,0.40px) scaleX(0.850);transform-origin:50% 0;">D</span>
<span class="t" style="left:108px;top:451px;font-size:10.3px;line-height:12px;color:#222;font-weight:bold;transform:translate(0.48px,0.00px) scaleX(0.992);transform-origin:50% 0;white-space:pre;">Ø  32</span>
<span class="t n" style="left:154px;top:449px;font-size:12.2px;line-height:15px;color:#2a2a2a;transform:translate(0.46px,0.60px) scaleX(0.853);transform-origin:50% 0;">25</span>
<span class="t n" style="left:175px;top:449px;font-size:12.2px;line-height:15px;color:#2a2a2a;transform:translate(0.09px,0.60px) scaleX(0.853);transform-origin:50% 0;">34</span>
<span class="t n" style="left:190px;top:449px;font-size:12.2px;line-height:15px;color:#2a2a2a;transform:translate(0.03px,0.60px) scaleX(0.782);transform-origin:50% 0;">M16*1.5</span>
<span class="t n" style="left:236px;top:449px;font-size:12.2px;line-height:15px;color:#2a2a2a;transform:translate(0.59px,0.60px) scaleX(0.853);transform-origin:50% 0;">18</span>
<span class="t n" style="left:255px;top:449px;font-size:12.2px;line-height:15px;color:#2a2a2a;transform:translate(0.96px,0.60px) scaleX(0.853);transform-origin:50% 0;">17</span>
<span class="t n" style="left:275px;top:449px;font-size:12.2px;line-height:15px;color:#2a2a2a;transform:translate(0.17px,0.60px) scaleX(0.900);transform-origin:50% 0;">...</span>
<span class="t n" style="left:293px;top:449px;font-size:12.2px;line-height:15px;color:#2a2a2a;transform:translate(0.67px,0.60px) scaleX(0.900);transform-origin:50% 0;">...</span>
<span class="t n" style="left:323px;top:449px;font-size:12.2px;line-height:15px;color:#2a2a2a;transform:translate(0.42px,0.60px) scaleX(0.900);transform-origin:50% 0;">...</span>
<span class="t n" style="left:354px;top:449px;font-size:12.2px;line-height:15px;color:#2a2a2a;transform:translate(0.29px,0.60px) scaleX(0.900);transform-origin:50% 0;">...</span>
<span class="t n" style="left:374px;top:449px;font-size:12.2px;line-height:15px;color:#2a2a2a;transform:translate(0.79px,0.60px) scaleX(0.900);transform-origin:50% 0;">...</span>
<span class="t n" style="left:393px;top:449px;font-size:12.2px;line-height:15px;color:#2a2a2a;transform:translate(0.46px,0.60px) scaleX(0.853);transform-origin:50% 0;">13</span>
<span class="t n" style="left:414px;top:449px;font-size:12.2px;line-height:15px;color:#2a2a2a;transform:translate(0.53px,0.60px) scaleX(0.782);transform-origin:50% 0;">M10*1.5</span>
<span class="t n" style="left:467px;top:449px;font-size:12.2px;line-height:15px;color:#2a2a2a;transform:translate(0.84px,0.60px) scaleX(0.853);transform-origin:50% 0;">58</span>
<span class="t n" style="left:490px;top:449px;font-size:12.2px;line-height:15px;color:#2a2a2a;transform:translate(0.81px,0.60px) scaleX(0.770);transform-origin:50% 0;">Rc3/8</span>
<span class="t n" style="left:531px;top:449px;font-size:12.2px;line-height:15px;color:#2a2a2a;transform:translate(0.17px,0.60px) scaleX(0.853);transform-origin:50% 0;">11</span>
<span class="t n" style="left:551px;top:449px;font-size:12.2px;line-height:15px;color:#2a2a2a;transform:translate(0.09px,0.60px) scaleX(0.853);transform-origin:50% 0;">38</span>
<span class="t n" style="left:571px;top:449px;font-size:12.2px;line-height:15px;color:#2a2a2a;transform:translate(0.71px,0.60px) scaleX(0.853);transform-origin:50% 0;">45</span>
<span class="t n" style="left:592px;top:449px;font-size:12.2px;line-height:15px;color:#2a2a2a;transform:translate(0.34px,0.60px) scaleX(0.853);transform-origin:50% 0;">54</span>
<span class="t n" style="left:609px;top:449px;font-size:12.2px;line-height:15px;color:#2a2a2a;transform:translate(0.32px,0.60px) scaleX(0.853);transform-origin:50% 0;">141</span>
<span class="t n" style="left:633px;top:449px;font-size:12.2px;line-height:15px;color:#2a2a2a;transform:translate(0.21px,0.60px) scaleX(0.853);transform-origin:50% 0;">31</span>
<span class="t n" style="left:653px;top:449px;font-size:12.2px;line-height:15px;color:#2a2a2a;transform:translate(0.84px,0.60px) scaleX(0.853);transform-origin:50% 0;">90</span>
<span class="t n" style="left:674px;top:449px;font-size:12.2px;line-height:15px;color:#2a2a2a;transform:translate(0.21px,0.60px) scaleX(0.853);transform-origin:50% 0;">13</span>
<span class="t n" style="left:694px;top:449px;font-size:12.2px;line-height:15px;color:#2a2a2a;transform:translate(0.59px,0.60px) scaleX(0.853);transform-origin:50% 0;">38</span>
<span class="t n" style="left:715px;top:449px;font-size:12.2px;line-height:15px;color:#2a2a2a;transform:translate(0.09px,0.60px) scaleX(0.853);transform-origin:50% 0;">30</span>
<span class="t n" style="left:735px;top:449px;font-size:12.2px;line-height:15px;color:#2a2a2a;transform:translate(0.59px,0.60px) scaleX(0.853);transform-origin:50% 0;">68</span>
<span class="t n" style="left:753px;top:449px;font-size:12.2px;line-height:15px;color:#2a2a2a;transform:translate(0.32px,0.60px) scaleX(0.853);transform-origin:50% 0;">171</span>
<span class="t n" style="left:778px;top:449px;font-size:12.2px;line-height:15px;color:#2a2a2a;transform:translate(0.59px,0.60px) scaleX(0.853);transform-origin:50% 0;">10</span>
<span class="t n" style="left:801px;top:449px;font-size:12.2px;line-height:15px;color:#2a2a2a;transform:translate(0.61px,0.60px) scaleX(0.853);transform-origin:50% 0;">6</span>
<span class="t" style="left:108px;top:472px;font-size:10.3px;line-height:12px;color:#222;font-weight:bold;transform:translate(0.48px,0.22px) scaleX(0.992);transform-origin:50% 0;white-space:pre;">Ø  40</span>
<span class="t n" style="left:154px;top:470px;font-size:12.2px;line-height:15px;color:#2a2a2a;transform:translate(0.46px,0.82px) scaleX(0.853);transform-origin:50% 0;">30</span>
<span class="t n" style="left:175px;top:470px;font-size:12.2px;line-height:15px;color:#2a2a2a;transform:translate(0.09px,0.82px) scaleX(0.853);transform-origin:50% 0;">40</span>
<span class="t n" style="left:190px;top:470px;font-size:12.2px;line-height:15px;color:#2a2a2a;transform:translate(0.03px,0.82px) scaleX(0.782);transform-origin:50% 0;">M20*1.5</span>
<span class="t n" style="left:231px;top:470px;font-size:12.2px;line-height:15px;color:#2a2a2a;transform:translate(0.50px,0.82px) scaleX(0.798);transform-origin:50% 0;">22.4</span>
<span class="t n" style="left:255px;top:470px;font-size:12.2px;line-height:15px;color:#2a2a2a;transform:translate(0.96px,0.82px) scaleX(0.853);transform-origin:50% 0;">21</span>
<span class="t n" style="left:273px;top:470px;font-size:12.2px;line-height:15px;color:#2a2a2a;transform:translate(0.46px,0.82px) scaleX(0.853);transform-origin:50% 0;">25</span>
<span class="t n" style="left:291px;top:470px;font-size:12.2px;line-height:15px;color:#2a2a2a;transform:translate(0.96px,0.82px) scaleX(0.853);transform-origin:50% 0;">36</span>
<span class="t n" style="left:305px;top:470px;font-size:12.2px;line-height:15px;color:#2a2a2a;transform:translate(0.78px,0.82px) scaleX(0.782);transform-origin:50% 0;">M16*1.5</span>
<span class="t n" style="left:352px;top:470px;font-size:12.2px;line-height:15px;color:#2a2a2a;transform:translate(0.59px,0.82px) scaleX(0.853);transform-origin:50% 0;">18</span>
<span class="t n" style="left:373px;top:470px;font-size:12.2px;line-height:15px;color:#2a2a2a;transform:translate(0.09px,0.82px) scaleX(0.853);transform-origin:50% 0;">17</span>
<span class="t n" style="left:393px;top:470px;font-size:12.2px;line-height:15px;color:#2a2a2a;transform:translate(0.46px,0.82px) scaleX(0.853);transform-origin:50% 0;">13</span>
<span class="t n" style="left:414px;top:470px;font-size:12.2px;line-height:15px;color:#2a2a2a;transform:translate(0.53px,0.82px) scaleX(0.782);transform-origin:50% 0;">M10*1.5</span>
<span class="t n" style="left:467px;top:470px;font-size:12.2px;line-height:15px;color:#2a2a2a;transform:translate(0.84px,0.82px) scaleX(0.853);transform-origin:50% 0;">65</span>
<span class="t n" style="left:490px;top:470px;font-size:12.2px;line-height:15px;color:#2a2a2a;transform:translate(0.81px,0.82px) scaleX(0.770);transform-origin:50% 0;">Rc3/8</span>
<span class="t n" style="left:531px;top:470px;font-size:12.2px;line-height:15px;color:#2a2a2a;transform:translate(0.17px,0.82px) scaleX(0.853);transform-origin:50% 0;">11</span>
<span class="t n" style="left:551px;top:470px;font-size:12.2px;line-height:15px;color:#2a2a2a;transform:translate(0.09px,0.82px) scaleX(0.853);transform-origin:50% 0;">38</span>
<span class="t n" style="left:571px;top:470px;font-size:12.2px;line-height:15px;color:#2a2a2a;transform:translate(0.71px,0.82px) scaleX(0.853);transform-origin:50% 0;">45</span>
<span class="t n" style="left:592px;top:470px;font-size:12.2px;line-height:15px;color:#2a2a2a;transform:translate(0.34px,0.82px) scaleX(0.853);transform-origin:50% 0;">54</span>
<span class="t n" style="left:609px;top:470px;font-size:12.2px;line-height:15px;color:#2a2a2a;transform:translate(0.32px,0.82px) scaleX(0.853);transform-origin:50% 0;">141</span>
<span class="t n" style="left:633px;top:470px;font-size:12.2px;line-height:15px;color:#2a2a2a;transform:translate(0.21px,0.82px) scaleX(0.853);transform-origin:50% 0;">31</span>
<span class="t n" style="left:653px;top:470px;font-size:12.2px;line-height:15px;color:#2a2a2a;transform:translate(0.84px,0.82px) scaleX(0.853);transform-origin:50% 0;">90</span>
<span class="t n" style="left:674px;top:470px;font-size:12.2px;line-height:15px;color:#2a2a2a;transform:translate(0.21px,0.82px) scaleX(0.853);transform-origin:50% 0;">13</span>
<span class="t n" style="left:694px;top:470px;font-size:12.2px;line-height:15px;color:#2a2a2a;transform:translate(0.59px,0.82px) scaleX(0.853);transform-origin:50% 0;">45</span>
<span class="t n" style="left:715px;top:470px;font-size:12.2px;line-height:15px;color:#2a2a2a;transform:translate(0.09px,0.82px) scaleX(0.853);transform-origin:50% 0;">30</span>
<span class="t n" style="left:735px;top:470px;font-size:12.2px;line-height:15px;color:#2a2a2a;transform:translate(0.59px,0.82px) scaleX(0.853);transform-origin:50% 0;">68</span>
<span class="t n" style="left:753px;top:470px;font-size:12.2px;line-height:15px;color:#2a2a2a;transform:translate(0.32px,0.82px) scaleX(0.853);transform-origin:50% 0;">171</span>
<span class="t n" style="left:778px;top:470px;font-size:12.2px;line-height:15px;color:#2a2a2a;transform:translate(0.59px,0.82px) scaleX(0.853);transform-origin:50% 0;">10</span>
<span class="t n" style="left:801px;top:470px;font-size:12.2px;line-height:15px;color:#2a2a2a;transform:translate(0.61px,0.82px) scaleX(0.853);transform-origin:50% 0;">6</span>
<span class="t" style="left:108px;top:493px;font-size:10.3px;line-height:12px;color:#222;font-weight:bold;transform:translate(0.48px,0.44px) scaleX(0.992);transform-origin:50% 0;white-space:pre;">Ø  50</span>
<span class="t n" style="left:154px;top:492px;font-size:12.2px;line-height:15px;color:#2a2a2a;transform:translate(0.46px,0.04px) scaleX(0.853);transform-origin:50% 0;">35</span>
<span class="t n" style="left:175px;top:492px;font-size:12.2px;line-height:15px;color:#2a2a2a;transform:translate(0.09px,0.04px) scaleX(0.853);transform-origin:50% 0;">46</span>
<span class="t n" style="left:190px;top:492px;font-size:12.2px;line-height:15px;color:#2a2a2a;transform:translate(0.03px,0.04px) scaleX(0.782);transform-origin:50% 0;">M24*1.5</span>
<span class="t n" style="left:236px;top:492px;font-size:12.2px;line-height:15px;color:#2a2a2a;transform:translate(0.59px,0.04px) scaleX(0.853);transform-origin:50% 0;">28</span>
<span class="t n" style="left:255px;top:492px;font-size:12.2px;line-height:15px;color:#2a2a2a;transform:translate(0.96px,0.04px) scaleX(0.853);transform-origin:50% 0;">25</span>
<span class="t n" style="left:273px;top:492px;font-size:12.2px;line-height:15px;color:#2a2a2a;transform:translate(0.46px,0.04px) scaleX(0.853);transform-origin:50% 0;">30</span>
<span class="t n" style="left:291px;top:492px;font-size:12.2px;line-height:15px;color:#2a2a2a;transform:translate(0.96px,0.04px) scaleX(0.853);transform-origin:50% 0;">40</span>
<span class="t n" style="left:305px;top:492px;font-size:12.2px;line-height:15px;color:#2a2a2a;transform:translate(0.78px,0.04px) scaleX(0.782);transform-origin:50% 0;">M20*1.5</span>
<span class="t n" style="left:347px;top:492px;font-size:12.2px;line-height:15px;color:#2a2a2a;transform:translate(0.50px,0.04px) scaleX(0.853);transform-origin:50% 0;">22.4</span>
<span class="t n" style="left:373px;top:492px;font-size:12.2px;line-height:15px;color:#2a2a2a;transform:translate(0.09px,0.04px) scaleX(0.853);transform-origin:50% 0;">21</span>
<span class="t n" style="left:393px;top:492px;font-size:12.2px;line-height:15px;color:#2a2a2a;transform:translate(0.46px,0.04px) scaleX(0.853);transform-origin:50% 0;">13</span>
<span class="t n" style="left:414px;top:492px;font-size:12.2px;line-height:15px;color:#2a2a2a;transform:translate(0.53px,0.04px) scaleX(0.782);transform-origin:50% 0;">M10*1.5</span>
<span class="t n" style="left:467px;top:492px;font-size:12.2px;line-height:15px;color:#2a2a2a;transform:translate(0.84px,0.04px) scaleX(0.853);transform-origin:50% 0;">76</span>
<span class="t n" style="left:490px;top:492px;font-size:12.2px;line-height:15px;color:#2a2a2a;transform:translate(0.81px,0.04px) scaleX(0.770);transform-origin:50% 0;">Rc1/2</span>
<span class="t n" style="left:530px;top:492px;font-size:12.2px;line-height:15px;color:#2a2a2a;transform:translate(0.71px,0.04px) scaleX(0.853);transform-origin:50% 0;">13</span>
<span class="t n" style="left:551px;top:492px;font-size:12.2px;line-height:15px;color:#2a2a2a;transform:translate(0.09px,0.04px) scaleX(0.853);transform-origin:50% 0;">42</span>
<span class="t n" style="left:571px;top:492px;font-size:12.2px;line-height:15px;color:#2a2a2a;transform:translate(0.71px,0.04px) scaleX(0.853);transform-origin:50% 0;">49</span>
<span class="t n" style="left:592px;top:492px;font-size:12.2px;line-height:15px;color:#2a2a2a;transform:translate(0.34px,0.04px) scaleX(0.853);transform-origin:50% 0;">58</span>
<span class="t n" style="left:609px;top:492px;font-size:12.2px;line-height:15px;color:#2a2a2a;transform:translate(0.32px,0.04px) scaleX(0.853);transform-origin:50% 0;">155</span>
<span class="t n" style="left:633px;top:492px;font-size:12.2px;line-height:15px;color:#2a2a2a;transform:translate(0.21px,0.04px) scaleX(0.853);transform-origin:50% 0;">35</span>
<span class="t n" style="left:653px;top:492px;font-size:12.2px;line-height:15px;color:#2a2a2a;transform:translate(0.84px,0.04px) scaleX(0.853);transform-origin:50% 0;">98</span>
<span class="t n" style="left:674px;top:492px;font-size:12.2px;line-height:15px;color:#2a2a2a;transform:translate(0.21px,0.04px) scaleX(0.853);transform-origin:50% 0;">15</span>
<span class="t n" style="left:694px;top:492px;font-size:12.2px;line-height:15px;color:#2a2a2a;transform:translate(0.59px,0.04px) scaleX(0.853);transform-origin:50% 0;">52</span>
<span class="t n" style="left:715px;top:492px;font-size:12.2px;line-height:15px;color:#2a2a2a;transform:translate(0.09px,0.04px) scaleX(0.853);transform-origin:50% 0;">30</span>
<span class="t n" style="left:735px;top:492px;font-size:12.2px;line-height:15px;color:#2a2a2a;transform:translate(0.59px,0.04px) scaleX(0.853);transform-origin:50% 0;">72</span>
<span class="t n" style="left:753px;top:492px;font-size:12.2px;line-height:15px;color:#2a2a2a;transform:translate(0.32px,0.04px) scaleX(0.853);transform-origin:50% 0;">185</span>
<span class="t n" style="left:779px;top:492px;font-size:12.2px;line-height:15px;color:#2a2a2a;transform:translate(0.04px,0.04px) scaleX(0.853);transform-origin:50% 0;">11</span>
<span class="t n" style="left:801px;top:492px;font-size:12.2px;line-height:15px;color:#2a2a2a;transform:translate(0.61px,0.04px) scaleX(0.853);transform-origin:50% 0;">6</span>
<span class="t" style="left:108px;top:514px;font-size:10.3px;line-height:12px;color:#222;font-weight:bold;transform:translate(0.48px,0.66px) scaleX(0.992);transform-origin:50% 0;white-space:pre;">Ø  63</span>
<span class="t n" style="left:154px;top:513px;font-size:12.2px;line-height:15px;color:#2a2a2a;transform:translate(0.46px,0.26px) scaleX(0.853);transform-origin:50% 0;">45</span>
<span class="t n" style="left:175px;top:513px;font-size:12.2px;line-height:15px;color:#2a2a2a;transform:translate(0.09px,0.26px) scaleX(0.853);transform-origin:50% 0;">55</span>
<span class="t n" style="left:190px;top:513px;font-size:12.2px;line-height:15px;color:#2a2a2a;transform:translate(0.03px,0.26px) scaleX(0.782);transform-origin:50% 0;">M30*1.5</span>
<span class="t n" style="left:231px;top:513px;font-size:12.2px;line-height:15px;color:#2a2a2a;transform:translate(0.50px,0.26px) scaleX(0.798);transform-origin:50% 0;">35.5</span>
<span class="t n" style="left:255px;top:513px;font-size:12.2px;line-height:15px;color:#2a2a2a;transform:translate(0.96px,0.26px) scaleX(0.853);transform-origin:50% 0;">32</span>
<span class="t n" style="left:273px;top:513px;font-size:12.2px;line-height:15px;color:#2a2a2a;transform:translate(0.46px,0.26px) scaleX(0.853);transform-origin:50% 0;">35</span>
<span class="t n" style="left:291px;top:513px;font-size:12.2px;line-height:15px;color:#2a2a2a;transform:translate(0.96px,0.26px) scaleX(0.853);transform-origin:50% 0;">46</span>
<span class="t n" style="left:305px;top:513px;font-size:12.2px;line-height:15px;color:#2a2a2a;transform:translate(0.78px,0.26px) scaleX(0.782);transform-origin:50% 0;">M24*1.5</span>
<span class="t n" style="left:352px;top:513px;font-size:12.2px;line-height:15px;color:#2a2a2a;transform:translate(0.59px,0.26px) scaleX(0.853);transform-origin:50% 0;">28</span>
<span class="t n" style="left:373px;top:513px;font-size:12.2px;line-height:15px;color:#2a2a2a;transform:translate(0.09px,0.26px) scaleX(0.853);transform-origin:50% 0;">25</span>
<span class="t n" style="left:393px;top:513px;font-size:12.2px;line-height:15px;color:#2a2a2a;transform:translate(0.46px,0.26px) scaleX(0.853);transform-origin:50% 0;">17</span>
<span class="t n" style="left:414px;top:513px;font-size:12.2px;line-height:15px;color:#2a2a2a;transform:translate(0.53px,0.26px) scaleX(0.782);transform-origin:50% 0;">M12*1.5</span>
<span class="t n" style="left:467px;top:513px;font-size:12.2px;line-height:15px;color:#2a2a2a;transform:translate(0.84px,0.26px) scaleX(0.853);transform-origin:50% 0;">90</span>
<span class="t n" style="left:490px;top:513px;font-size:12.2px;line-height:15px;color:#2a2a2a;transform:translate(0.81px,0.26px) scaleX(0.770);transform-origin:50% 0;">Rc1/2</span>
<span class="t n" style="left:530px;top:513px;font-size:12.2px;line-height:15px;color:#2a2a2a;transform:translate(0.71px,0.26px) scaleX(0.853);transform-origin:50% 0;">15</span>
<span class="t n" style="left:551px;top:513px;font-size:12.2px;line-height:15px;color:#2a2a2a;transform:translate(0.09px,0.26px) scaleX(0.853);transform-origin:50% 0;">46</span>
<span class="t n" style="left:571px;top:513px;font-size:12.2px;line-height:15px;color:#2a2a2a;transform:translate(0.71px,0.26px) scaleX(0.853);transform-origin:50% 0;">51</span>
<span class="t n" style="left:592px;top:513px;font-size:12.2px;line-height:15px;color:#2a2a2a;transform:translate(0.34px,0.26px) scaleX(0.853);transform-origin:50% 0;">62</span>
<span class="t n" style="left:609px;top:513px;font-size:12.2px;line-height:15px;color:#2a2a2a;transform:translate(0.32px,0.26px) scaleX(0.853);transform-origin:50% 0;">163</span>
<span class="t n" style="left:633px;top:513px;font-size:12.2px;line-height:15px;color:#2a2a2a;transform:translate(0.21px,0.26px) scaleX(0.853);transform-origin:50% 0;">35</span>
<span class="t n" style="left:650px;top:513px;font-size:12.2px;line-height:15px;color:#2a2a2a;transform:translate(0.45px,0.26px) scaleX(0.853);transform-origin:50% 0;">102</span>
<span class="t n" style="left:674px;top:513px;font-size:12.2px;line-height:15px;color:#2a2a2a;transform:translate(0.21px,0.26px) scaleX(0.853);transform-origin:50% 0;">15</span>
<span class="t n" style="left:694px;top:513px;font-size:12.2px;line-height:15px;color:#2a2a2a;transform:translate(0.59px,0.26px) scaleX(0.853);transform-origin:50% 0;">63</span>
<span class="t n" style="left:715px;top:513px;font-size:12.2px;line-height:15px;color:#2a2a2a;transform:translate(0.09px,0.26px) scaleX(0.853);transform-origin:50% 0;">35</span>
<span class="t n" style="left:735px;top:513px;font-size:12.2px;line-height:15px;color:#2a2a2a;transform:translate(0.59px,0.26px) scaleX(0.853);transform-origin:50% 0;">81</span>
<span class="t n" style="left:753px;top:513px;font-size:12.2px;line-height:15px;color:#2a2a2a;transform:translate(0.32px,0.26px) scaleX(0.853);transform-origin:50% 0;">198</span>
<span class="t n" style="left:778px;top:513px;font-size:12.2px;line-height:15px;color:#2a2a2a;transform:translate(0.59px,0.26px) scaleX(0.853);transform-origin:50% 0;">10</span>
<span class="t n" style="left:801px;top:513px;font-size:12.2px;line-height:15px;color:#2a2a2a;transform:translate(0.61px,0.26px) scaleX(0.853);transform-origin:50% 0;">4</span>
<span class="t" style="left:108px;top:535px;font-size:10.3px;line-height:12px;color:#222;font-weight:bold;transform:translate(0.48px,0.88px) scaleX(0.992);transform-origin:50% 0;white-space:pre;">Ø  80</span>
<span class="t n" style="left:154px;top:534px;font-size:12.2px;line-height:15px;color:#2a2a2a;transform:translate(0.46px,0.48px) scaleX(0.853);transform-origin:50% 0;">60</span>
<span class="t n" style="left:175px;top:534px;font-size:12.2px;line-height:15px;color:#2a2a2a;transform:translate(0.09px,0.48px) scaleX(0.853);transform-origin:50% 0;">65</span>
<span class="t n" style="left:190px;top:534px;font-size:12.2px;line-height:15px;color:#2a2a2a;transform:translate(0.03px,0.48px) scaleX(0.782);transform-origin:50% 0;">M39*1.5</span>
<span class="t n" style="left:236px;top:534px;font-size:12.2px;line-height:15px;color:#2a2a2a;transform:translate(0.59px,0.48px) scaleX(0.853);transform-origin:50% 0;">45</span>
<span class="t n" style="left:255px;top:534px;font-size:12.2px;line-height:15px;color:#2a2a2a;transform:translate(0.96px,0.48px) scaleX(0.853);transform-origin:50% 0;">41</span>
<span class="t n" style="left:273px;top:534px;font-size:12.2px;line-height:15px;color:#2a2a2a;transform:translate(0.46px,0.48px) scaleX(0.853);transform-origin:50% 0;">45</span>
<span class="t n" style="left:291px;top:534px;font-size:12.2px;line-height:15px;color:#2a2a2a;transform:translate(0.96px,0.48px) scaleX(0.853);transform-origin:50% 0;">55</span>
<span class="t n" style="left:305px;top:534px;font-size:12.2px;line-height:15px;color:#2a2a2a;transform:translate(0.78px,0.48px) scaleX(0.782);transform-origin:50% 0;">M30*1.5</span>
<span class="t n" style="left:347px;top:534px;font-size:12.2px;line-height:15px;color:#2a2a2a;transform:translate(0.50px,0.48px) scaleX(0.853);transform-origin:50% 0;">35.5</span>
<span class="t n" style="left:373px;top:534px;font-size:12.2px;line-height:15px;color:#2a2a2a;transform:translate(0.09px,0.48px) scaleX(0.853);transform-origin:50% 0;">32</span>
<span class="t n" style="left:393px;top:534px;font-size:12.2px;line-height:15px;color:#2a2a2a;transform:translate(0.46px,0.48px) scaleX(0.853);transform-origin:50% 0;">20</span>
<span class="t n" style="left:414px;top:534px;font-size:12.2px;line-height:15px;color:#2a2a2a;transform:translate(0.53px,0.48px) scaleX(0.782);transform-origin:50% 0;">M16*1.5</span>
<span class="t n" style="left:464px;top:534px;font-size:12.2px;line-height:15px;color:#2a2a2a;transform:translate(0.90px,0.48px) scaleX(0.853);transform-origin:50% 0;">110</span>
<span class="t n" style="left:490px;top:534px;font-size:12.2px;line-height:15px;color:#2a2a2a;transform:translate(0.81px,0.48px) scaleX(0.770);transform-origin:50% 0;">Rc3/4</span>
<span class="t n" style="left:530px;top:534px;font-size:12.2px;line-height:15px;color:#2a2a2a;transform:translate(0.71px,0.48px) scaleX(0.853);transform-origin:50% 0;">18</span>
<span class="t n" style="left:551px;top:534px;font-size:12.2px;line-height:15px;color:#2a2a2a;transform:translate(0.09px,0.48px) scaleX(0.853);transform-origin:50% 0;">56</span>
<span class="t n" style="left:571px;top:534px;font-size:12.2px;line-height:15px;color:#2a2a2a;transform:translate(0.71px,0.48px) scaleX(0.853);transform-origin:50% 0;">60</span>
<span class="t n" style="left:592px;top:534px;font-size:12.2px;line-height:15px;color:#2a2a2a;transform:translate(0.34px,0.48px) scaleX(0.853);transform-origin:50% 0;">66</span>
<span class="t n" style="left:609px;top:534px;font-size:12.2px;line-height:15px;color:#2a2a2a;transform:translate(0.32px,0.48px) scaleX(0.853);transform-origin:50% 0;">184</span>
<span class="t n" style="left:633px;top:534px;font-size:12.2px;line-height:15px;color:#2a2a2a;transform:translate(0.21px,0.48px) scaleX(0.853);transform-origin:50% 0;">40</span>
<span class="t n" style="left:650px;top:534px;font-size:12.2px;line-height:15px;color:#2a2a2a;transform:translate(0.90px,0.48px) scaleX(0.853);transform-origin:50% 0;">110</span>
<span class="t n" style="left:674px;top:534px;font-size:12.2px;line-height:15px;color:#2a2a2a;transform:translate(0.21px,0.48px) scaleX(0.853);transform-origin:50% 0;">18</span>
<span class="t n" style="left:694px;top:534px;font-size:12.2px;line-height:15px;color:#2a2a2a;transform:translate(0.59px,0.48px) scaleX(0.853);transform-origin:50% 0;">80</span>
<span class="t n" style="left:715px;top:534px;font-size:12.2px;line-height:15px;color:#2a2a2a;transform:translate(0.09px,0.48px) scaleX(0.853);transform-origin:50% 0;">35</span>
<span class="t n" style="left:735px;top:534px;font-size:12.2px;line-height:15px;color:#2a2a2a;transform:translate(0.59px,0.48px) scaleX(0.853);transform-origin:50% 0;">91</span>
<span class="t n" style="left:753px;top:534px;font-size:12.2px;line-height:15px;color:#2a2a2a;transform:translate(0.32px,0.48px) scaleX(0.853);transform-origin:50% 0;">219</span>
<span class="t n" style="left:781px;top:534px;font-size:12.2px;line-height:15px;color:#2a2a2a;transform:translate(0.98px,0.48px) scaleX(0.853);transform-origin:50% 0;">9</span>
<span class="t n" style="left:796px;top:534px;font-size:12.2px;line-height:15px;color:#2a2a2a;transform:translate(0.52px,0.48px) scaleX(0.853);transform-origin:50% 0;">4.5</span>
<span class="t" style="left:108px;top:557px;font-size:10.3px;line-height:12px;color:#222;font-weight:bold;transform:translate(0.48px,0.10px) scaleX(0.992);transform-origin:50% 0;white-space:pre;">Ø100</span>
<span class="t n" style="left:154px;top:555px;font-size:12.2px;line-height:15px;color:#2a2a2a;transform:translate(0.46px,0.70px) scaleX(0.853);transform-origin:50% 0;">75</span>
<span class="t n" style="left:175px;top:555px;font-size:12.2px;line-height:15px;color:#2a2a2a;transform:translate(0.09px,0.70px) scaleX(0.853);transform-origin:50% 0;">80</span>
<span class="t n" style="left:190px;top:555px;font-size:12.2px;line-height:15px;color:#2a2a2a;transform:translate(0.03px,0.70px) scaleX(0.782);transform-origin:50% 0;">M48*1.5</span>
<span class="t n" style="left:236px;top:555px;font-size:12.2px;line-height:15px;color:#2a2a2a;transform:translate(0.59px,0.70px) scaleX(0.853);transform-origin:50% 0;">56</span>
<span class="t n" style="left:255px;top:555px;font-size:12.2px;line-height:15px;color:#2a2a2a;transform:translate(0.96px,0.70px) scaleX(0.853);transform-origin:50% 0;">50</span>
<span class="t n" style="left:273px;top:555px;font-size:12.2px;line-height:15px;color:#2a2a2a;transform:translate(0.46px,0.70px) scaleX(0.853);transform-origin:50% 0;">60</span>
<span class="t n" style="left:291px;top:555px;font-size:12.2px;line-height:15px;color:#2a2a2a;transform:translate(0.96px,0.70px) scaleX(0.853);transform-origin:50% 0;">65</span>
<span class="t n" style="left:305px;top:555px;font-size:12.2px;line-height:15px;color:#2a2a2a;transform:translate(0.78px,0.70px) scaleX(0.782);transform-origin:50% 0;">M39*1.5</span>
<span class="t n" style="left:352px;top:555px;font-size:12.2px;line-height:15px;color:#2a2a2a;transform:translate(0.59px,0.70px) scaleX(0.853);transform-origin:50% 0;">45</span>
<span class="t n" style="left:373px;top:555px;font-size:12.2px;line-height:15px;color:#2a2a2a;transform:translate(0.09px,0.70px) scaleX(0.853);transform-origin:50% 0;">41</span>
<span class="t n" style="left:393px;top:555px;font-size:12.2px;line-height:15px;color:#2a2a2a;transform:translate(0.46px,0.70px) scaleX(0.853);transform-origin:50% 0;">24</span>
<span class="t n" style="left:414px;top:555px;font-size:12.2px;line-height:15px;color:#2a2a2a;transform:translate(0.53px,0.70px) scaleX(0.782);transform-origin:50% 0;">M18*1.5</span>
<span class="t n" style="left:464px;top:555px;font-size:12.2px;line-height:15px;color:#2a2a2a;transform:translate(0.45px,0.70px) scaleX(0.853);transform-origin:50% 0;">135</span>
<span class="t n" style="left:490px;top:555px;font-size:12.2px;line-height:15px;color:#2a2a2a;transform:translate(0.81px,0.70px) scaleX(0.770);transform-origin:50% 0;">Rc3/4</span>
<span class="t n" style="left:530px;top:555px;font-size:12.2px;line-height:15px;color:#2a2a2a;transform:translate(0.71px,0.70px) scaleX(0.853);transform-origin:50% 0;">20</span>
<span class="t n" style="left:551px;top:555px;font-size:12.2px;line-height:15px;color:#2a2a2a;transform:translate(0.09px,0.70px) scaleX(0.853);transform-origin:50% 0;">58</span>
<span class="t n" style="left:571px;top:555px;font-size:12.2px;line-height:15px;color:#2a2a2a;transform:translate(0.71px,0.70px) scaleX(0.853);transform-origin:50% 0;">60</span>
<span class="t n" style="left:592px;top:555px;font-size:12.2px;line-height:15px;color:#2a2a2a;transform:translate(0.34px,0.70px) scaleX(0.853);transform-origin:50% 0;">72</span>
<span class="t n" style="left:609px;top:555px;font-size:12.2px;line-height:15px;color:#2a2a2a;transform:translate(0.32px,0.70px) scaleX(0.853);transform-origin:50% 0;">192</span>
<span class="t n" style="left:633px;top:555px;font-size:12.2px;line-height:15px;color:#2a2a2a;transform:translate(0.21px,0.70px) scaleX(0.853);transform-origin:50% 0;">40</span>
<span class="t n" style="left:650px;top:555px;font-size:12.2px;line-height:15px;color:#2a2a2a;transform:translate(0.90px,0.70px) scaleX(0.853);transform-origin:50% 0;">116</span>
<span class="t n" style="left:674px;top:555px;font-size:12.2px;line-height:15px;color:#2a2a2a;transform:translate(0.21px,0.70px) scaleX(0.853);transform-origin:50% 0;">18</span>
<span class="t n" style="left:691px;top:555px;font-size:12.2px;line-height:15px;color:#2a2a2a;transform:translate(0.20px,0.70px) scaleX(0.853);transform-origin:50% 0;">102</span>
<span class="t n" style="left:715px;top:555px;font-size:12.2px;line-height:15px;color:#2a2a2a;transform:translate(0.09px,0.70px) scaleX(0.853);transform-origin:50% 0;">40</span>
<span class="t n" style="left:735px;top:555px;font-size:12.2px;line-height:15px;color:#2a2a2a;transform:translate(0.59px,0.70px) scaleX(0.853);transform-origin:50% 0;">98</span>
<span class="t n" style="left:753px;top:555px;font-size:12.2px;line-height:15px;color:#2a2a2a;transform:translate(0.32px,0.70px) scaleX(0.853);transform-origin:50% 0;">232</span>
<span class="t n" style="left:773px;top:555px;font-size:12.2px;line-height:15px;color:#2a2a2a;transform:translate(0.50px,0.70px) scaleX(0.840);transform-origin:50% 0;">13.5</span>
<span class="t n" style="left:801px;top:555px;font-size:12.2px;line-height:15px;color:#2a2a2a;transform:translate(0.61px,0.70px) scaleX(0.853);transform-origin:50% 0;">5</span>
</div>
<div class="b" style="left:93.30px;top:577.30px;width:720.70px;height:19.40px;background:#0f71be;"></div>
<span class="t" style="left:101px;top:580px;font-size:12px;line-height:14px;color:#fff;font-weight:bold;transform:translate(0.40px,0.00px) scaleX(0.992);transform-origin:0 0;">Çalışma mesafesi /</span>
<span class="t" style="left:213px;top:580px;font-size:12px;line-height:14px;color:#fbb02d;font-weight:bold;transform:translate(0.00px,0.00px) scaleX(1.095);transform-origin:0 0;-webkit-text-stroke:0.5px #fbb02d;">Strok</span>
<span class="t" style="left:248px;top:580px;font-size:12px;line-height:14px;color:#fff;font-weight:bold;transform:translate(0.61px,0.00px) scaleX(0.995);transform-origin:100% 0;">(mm): 50, 100, 150, 200, 250, 300, 350, 400, 450, 500, 550, 600, 650, 700, 750, 800, 850, 900, 950, 1000</span>
<span class="t" style="left:599px;top:601px;font-size:12px;line-height:14px;color:#2a2a2a;transform:translate(0.76px,0.70px) scaleX(0.850);transform-origin:100% 0;">Çalışma ortamı Sıcaklığı: 10 - 60 °C ‘dir.</span>
<div class="b" style="left:96.50px;top:628.80px;width:715.00px;height:1.00px;background:#9a9a9a;"></div>
<span class="t" style="left:97px;top:633px;font-size:13px;line-height:16px;color:#141414;font-weight:bold;transform:translate(0.20px,0.50px) scaleX(0.975);transform-origin:0 0;">FA Tip Silindirler (Dikdörtgen flanşlı sabitleme)</span>
<svg class="b" style="left:0;top:0" width="900" height="1186" viewBox="0 0 900 1186">
<defs>
<filter id="bl2" x="-5%" y="-10%" width="110%" height="120%"><feGaussianBlur stdDeviation="0.55"/></filter>
<linearGradient id="tu2" x1="0" y1="0" x2="0.12" y2="1">
<stop offset="0" stop-color="#6f6c67"/><stop offset="0.22" stop-color="#c9c6bf"/><stop offset="0.5" stop-color="#ecebe6"/><stop offset="0.78" stop-color="#bdb9b1"/><stop offset="1" stop-color="#85817a"/></linearGradient>
<linearGradient id="tl2" x1="0" y1="0" x2="0.12" y2="1">
<stop offset="0" stop-color="#a9a59d"/><stop offset="0.5" stop-color="#c9c4ba"/><stop offset="1" stop-color="#8b877f"/></linearGradient>
<linearGradient id="br2" x1="0" y1="0" x2="0" y2="1">
<stop offset="0" stop-color="#e3b24a"/><stop offset="0.5" stop-color="#d29a2e"/><stop offset="1" stop-color="#9c7424"/></linearGradient>
<linearGradient id="ch2" x1="0" y1="0" x2="0" y2="1">
<stop offset="0" stop-color="#9a9a9a"/><stop offset="0.3" stop-color="#f4f4f4"/><stop offset="0.55" stop-color="#3a3a3a"/><stop offset="0.8" stop-color="#e8e8e8"/><stop offset="1" stop-color="#999"/></linearGradient>
</defs>
<g filter="url(#bl2)">
<path d="M233 706 C 236 703, 238 701, 239.5 698.5" fill="none" stroke="#1d1f1e" stroke-width="2.2" stroke-linecap="round"/>
<path d="M277 712 C 275 706, 275 699, 278.5 693" fill="none" stroke="#1d1f1e" stroke-width="2.4" stroke-linecap="round"/>
<polygon points="186.0,709.0 308.0,694.0 308.4,700.0 186.0,715.6" fill="#232524" />
<polygon points="186.0,712.6 308.0,697.4 308.0,698.4 186.0,713.6" fill="#8a8a88" />
<polygon points="188.0,716.0 315.6,702.0 318.4,718.0 192.4,735.0" fill="url(#tu2)" />
<polygon points="192.4,733.4 318.4,716.6 318.4,722.6 192.8,740.6" fill="#272a28" />
<polygon points="192.8,740.2 318.4,722.6 318.0,735.4 193.2,754.4" fill="url(#tl2)" />
<polygon points="193.2,753.6 318.0,734.6 313.0,744.0 193.6,762.4" fill="#202221" />
<polygon points="232.6,713.0 269.0,708.8 271.2,717.8 235.0,722.4" fill="#4263b5" />
<polygon points="234.4,714.4 265.0,710.6 266.2,717.0 236.2,721.0" fill="#e4e9f4" />
<polygon points="204.0,705.0 216.0,703.4 217.6,713.0 205.6,714.6" fill="#b9b6b0" />
<polygon points="204.4,714.0 221.0,712.0 221.4,716.0 204.8,718.0" fill="#1f2120" />
<polygon points="216.6,709.0 221.0,708.4 221.4,712.6 217.0,713.2" fill="#d8362c" />
<polygon points="284.0,709.0 293.6,707.0 297.0,729.0 289.0,731.0" fill="#c4c2bd" />
<polygon points="281.0,712.0 286.0,711.0 288.0,718.0 282.4,719.4" fill="#a9a7a2" />
<polygon points="287.4,731.0 294.0,730.0 294.4,734.0 288.0,734.6" fill="#2b2b2b" />
<polygon points="303.0,690.0 323.0,687.4 346.4,714.6 345.6,719.4 333.0,743.0 318.0,747.4 309.6,744.0 316.4,733.4 318.0,718.0 308.4,700.6" fill="#2a2d2b" />
<polygon points="303.0,690.0 323.0,687.4 345.0,714.6 324.0,719.4" fill="#343735" />
<ellipse cx="325.0" cy="701.0" rx="7.0" ry="5.6" fill="#9a7f2e" transform="rotate(35 325 701)"/>
<ellipse cx="325.0" cy="701.0" rx="5.0" ry="3.8" fill="#b9982f" transform="rotate(35 325 701)"/>
<path d="M320.5 698.5 L329.5 703.5 M324 704.5 L326.5 697.5" stroke="#5e4d1c" stroke-width="1" fill="none"/>
<polygon points="341.6,713.0 346.4,712.0 347.0,718.0 342.4,719.0" fill="#1d1f1e" />
<polygon points="326.0,690.0 329.6,691.0 330.4,695.0 327.6,693.4" fill="#222" />
<polygon points="140.1,690.1 148.7,688.6 162.7,761.7 163.4,795.1 154.9,796.7 151.0,764.0" fill="#363938" />
<polygon points="151.0,764.0 162.7,761.7 163.4,795.1 154.9,796.7" fill="#3f4241" />
<polygon points="138.9,727.9 145.6,726.4 149.4,756.2 142.4,757.3 140.1,753.1 138.6,732.9" fill="url(#br2)" />
<polygon points="151.0,707.2 183.7,703.3 193.0,737.6 158.2,741.6" fill="#303331" />
<polygon points="158.0,741.1 193.0,737.2 192.4,770.2 162.2,773.6" fill="#282b29" />
<ellipse cx="174.6" cy="720.1" rx="9.0" ry="7.4" fill="#cfc68c" transform="rotate(-8 174.6 720.1)"/>
<ellipse cx="174.6" cy="720.1" rx="6.6" ry="5.2" fill="#b8ae72" transform="rotate(-8 174.6 720.1)"/>
<path d="M169.5 722.5 L179.5 717.5" stroke="#d9d2a0" stroke-width="2.2" fill="none"/>
<polygon points="124.6,734.8 140.1,732.9 140.9,751.9 126.1,753.4" fill="url(#ch2)" />
<polygon points="101.2,740.7 103.6,739.1 114.4,738.2 115.2,753.1 104.3,755.0 101.5,752.3" fill="#3a3b3a" />
<polygon points="114.4,734.1 122.7,732.6 124.6,735.2 126.6,754.4 124.6,756.5 118.0,757.5 115.2,754.7" fill="#262827" />
</g>
</svg>
<svg class="b g" style="left:0;top:0" width="900" height="1186" viewBox="0 0 900 1186" >
<line x1="292.0" y1="776.1" x2="370.2" y2="776.1" stroke="#6e6e6e" stroke-width="0.50"/>
<line x1="292.0" y1="819.6" x2="370.2" y2="819.6" stroke="#6e6e6e" stroke-width="0.50"/>
<line x1="294.8" y1="776.1" x2="294.8" y2="819.6" stroke="#6e6e6e" stroke-width="0.50"/>
<polygon points="294.8,776.1 294.1,779.3 295.5,779.3" fill="#555"/>
<polygon points="294.8,819.6 294.1,816.4 295.5,816.4" fill="#555"/>
<text x="292.8" y="797.0" font-size="6.2" text-anchor="middle" fill="#3c3c3c" transform="rotate(-90 292.8 797.0)">ØB</text>
<rect x="305.2" y="787.0" width="32.4" height="21.4" rx="0.0" fill="none" stroke="#3a3a3a" stroke-width="1.00"/>
<polyline points="337.6,786.0 348.4,786.0 348.4,784.6 360.9,784.6 360.9,810.8 348.4,810.8 348.4,809.5 337.6,809.5" fill="none" stroke="#3a3a3a" stroke-width="0.90" stroke-linejoin="round"/>
<line x1="339.5" y1="786.0" x2="339.5" y2="809.5" stroke="#777" stroke-width="0.50"/>
<line x1="341.5" y1="786.0" x2="341.5" y2="809.5" stroke="#777" stroke-width="0.50"/>
<line x1="348.4" y1="786.0" x2="348.4" y2="809.5" stroke="#777" stroke-width="0.50"/>
<line x1="353.0" y1="786.0" x2="353.0" y2="809.5" stroke="#777" stroke-width="0.50"/>
<line x1="357.0" y1="786.0" x2="357.0" y2="809.5" stroke="#777" stroke-width="0.50"/>
<polyline points="360.9,784.6 360.9,776.1 370.5,776.1 370.5,819.6 360.9,819.6 360.9,810.8" fill="none" stroke="#3a3a3a" stroke-width="1.00" stroke-linejoin="round"/>
<line x1="360.6" y1="759.5" x2="360.6" y2="776.0" stroke="#6e6e6e" stroke-width="0.50"/>
<line x1="370.5" y1="759.5" x2="370.5" y2="824.8" stroke="#6e6e6e" stroke-width="0.50"/>
<line x1="353.6" y1="763.0" x2="377.5" y2="763.0" stroke="#6e6e6e" stroke-width="0.50"/>
<polygon points="360.6,763.0 357.4,762.3 357.4,763.7" fill="#555"/>
<polygon points="370.5,763.0 373.7,762.3 373.7,763.7" fill="#555"/>
<text x="365.9" y="762.9" font-size="6.6" text-anchor="middle" fill="#3c3c3c">10</text>
<line x1="304.9" y1="798.0" x2="384.2" y2="798.0" stroke="#888" stroke-width="0.60" stroke-dasharray="8 5"/>
<line x1="416.0" y1="798.0" x2="420.0" y2="798.0" stroke="#888" stroke-width="0.60"/>
<text x="345.3" y="800.4" font-size="5.2" text-anchor="middle" fill="#555" transform="rotate(-90 345.3 800.4)">S</text>
<rect x="421.0" y="760.6" width="118.8" height="74.6" rx="2.2" fill="none" stroke="#3a3a3a" stroke-width="1.10"/>
<polygon points="449.0,832.6 445.6,829.0 445.6,767.0 449.0,763.2 511.0,763.2 514.5,767.0 514.5,829.0 511.0,832.6" fill="none" stroke="#555" stroke-width="0.70" stroke-linejoin="round" stroke-dasharray="5 2.5"/>
<circle cx="431.0" cy="770.3" r="5.6" fill="none" stroke="#555" stroke-width="0.70"/>
<line x1="423.0" y1="770.3" x2="439.0" y2="770.3" stroke="#888" stroke-width="0.40"/>
<line x1="431.0" y1="762.3" x2="431.0" y2="778.3" stroke="#888" stroke-width="0.40"/>
<circle cx="528.2" cy="770.3" r="5.6" fill="none" stroke="#555" stroke-width="0.70"/>
<line x1="520.2" y1="770.3" x2="536.2" y2="770.3" stroke="#888" stroke-width="0.40"/>
<line x1="528.2" y1="762.3" x2="528.2" y2="778.3" stroke="#888" stroke-width="0.40"/>
<circle cx="431.0" cy="825.4" r="5.6" fill="none" stroke="#555" stroke-width="0.70"/>
<line x1="423.0" y1="825.4" x2="439.0" y2="825.4" stroke="#888" stroke-width="0.40"/>
<line x1="431.0" y1="817.4" x2="431.0" y2="833.4" stroke="#888" stroke-width="0.40"/>
<circle cx="528.2" cy="825.4" r="5.6" fill="none" stroke="#555" stroke-width="0.70"/>
<line x1="520.2" y1="825.4" x2="536.2" y2="825.4" stroke="#888" stroke-width="0.40"/>
<line x1="528.2" y1="817.4" x2="528.2" y2="833.4" stroke="#888" stroke-width="0.40"/>
<circle cx="454.1" cy="772.1" r="4.9" fill="none" stroke="#666" stroke-width="0.60"/>
<line x1="446.1" y1="772.1" x2="462.1" y2="772.1" stroke="#888" stroke-width="0.40"/>
<line x1="454.1" y1="764.1" x2="454.1" y2="780.1" stroke="#888" stroke-width="0.40"/>
<circle cx="505.1" cy="772.1" r="4.9" fill="none" stroke="#666" stroke-width="0.60"/>
<line x1="497.1" y1="772.1" x2="513.1" y2="772.1" stroke="#888" stroke-width="0.40"/>
<line x1="505.1" y1="764.1" x2="505.1" y2="780.1" stroke="#888" stroke-width="0.40"/>
<circle cx="454.1" cy="822.8" r="4.9" fill="none" stroke="#666" stroke-width="0.60"/>
<line x1="446.1" y1="822.8" x2="462.1" y2="822.8" stroke="#888" stroke-width="0.40"/>
<line x1="454.1" y1="814.8" x2="454.1" y2="830.8" stroke="#888" stroke-width="0.40"/>
<circle cx="505.1" cy="822.8" r="4.9" fill="none" stroke="#666" stroke-width="0.60"/>
<line x1="497.1" y1="822.8" x2="513.1" y2="822.8" stroke="#888" stroke-width="0.40"/>
<line x1="505.1" y1="814.8" x2="505.1" y2="830.8" stroke="#888" stroke-width="0.40"/>
<circle cx="480.2" cy="797.9" r="20.4" fill="none" stroke="#777" stroke-width="0.50"/>
<circle cx="480.2" cy="797.9" r="13.9" fill="none" stroke="#444" stroke-width="1.30"/>
<circle cx="480.2" cy="797.9" r="12.1" fill="none" stroke="#666" stroke-width="0.60"/>
<line x1="415.0" y1="797.9" x2="520.0" y2="797.9" stroke="#888" stroke-width="0.60" stroke-dasharray="7 4"/>
<line x1="480.2" y1="762.0" x2="480.2" y2="828.0" stroke="#888" stroke-width="0.60" stroke-dasharray="7 4"/>
<line x1="471.5" y1="764.0" x2="471.5" y2="777.0" stroke="#777" stroke-width="0.60" stroke-dasharray="5 2"/>
<line x1="488.0" y1="764.0" x2="488.0" y2="777.0" stroke="#777" stroke-width="0.60" stroke-dasharray="5 2"/>
<rect x="441.6" y="794.0" width="4.3" height="8.9" rx="0.0" fill="#2a2a2a" stroke="#222" stroke-width="0.30"/>
<rect x="514.0" y="794.0" width="4.8" height="8.9" rx="0.0" fill="#2a2a2a" stroke="#222" stroke-width="0.30"/>
<circle cx="478.4" cy="752.6" r="4.8" fill="#fff" stroke="#3a3a3a" stroke-width="0.70"/>
<text x="478.4" y="755.3" font-size="7.4" text-anchor="middle" fill="#222">A</text>
<circle cx="435.8" cy="797.9" r="4.8" fill="#fff" stroke="#3a3a3a" stroke-width="0.70"/>
<text x="435.8" y="800.6" font-size="7.4" text-anchor="middle" fill="#222">D</text>
<circle cx="527.0" cy="798.2" r="4.8" fill="#fff" stroke="#3a3a3a" stroke-width="0.70"/>
<text x="527.0" y="800.9" font-size="7.4" text-anchor="middle" fill="#222">B</text>
<circle cx="480.2" cy="841.8" r="4.8" fill="#fff" stroke="#3a3a3a" stroke-width="0.70"/>
<text x="480.2" y="844.5" font-size="7.4" text-anchor="middle" fill="#222">C</text>
<line x1="421.0" y1="735.5" x2="421.0" y2="760.6" stroke="#6e6e6e" stroke-width="0.50"/>
<line x1="539.8" y1="735.5" x2="539.8" y2="760.6" stroke="#6e6e6e" stroke-width="0.50"/>
<line x1="431.0" y1="743.5" x2="431.0" y2="770.0" stroke="#6e6e6e" stroke-width="0.50"/>
<line x1="528.2" y1="743.5" x2="528.2" y2="770.0" stroke="#6e6e6e" stroke-width="0.50"/>
<line x1="421.0" y1="737.1" x2="539.8" y2="737.1" stroke="#6e6e6e" stroke-width="0.50"/>
<polygon points="421.0,737.1 424.2,736.4 424.2,737.8" fill="#555"/>
<polygon points="539.8,737.1 536.6,736.4 536.6,737.8" fill="#555"/>
<line x1="431.0" y1="745.1" x2="528.2" y2="745.1" stroke="#6e6e6e" stroke-width="0.50"/>
<polygon points="431.0,745.1 434.2,744.4 434.2,745.8" fill="#555"/>
<polygon points="528.2,745.1 525.0,744.4 525.0,745.8" fill="#555"/>
<text x="480.2" y="736.1" font-size="5.8" text-anchor="middle" fill="#3c3c3c">UF</text>
<text x="480.2" y="744.3" font-size="5.8" text-anchor="middle" fill="#3c3c3c">TF</text>
<line x1="528.2" y1="770.3" x2="550.0" y2="770.3" stroke="#6e6e6e" stroke-width="0.50"/>
<line x1="528.2" y1="825.4" x2="550.0" y2="825.4" stroke="#6e6e6e" stroke-width="0.50"/>
<line x1="548.3" y1="770.3" x2="548.3" y2="825.4" stroke="#6e6e6e" stroke-width="0.50"/>
<polygon points="548.3,770.3 547.6,773.5 549.0,773.5" fill="#555"/>
<polygon points="548.3,825.4 547.6,822.2 549.0,822.2" fill="#555"/>
<line x1="539.8" y1="760.6" x2="557.5" y2="760.6" stroke="#6e6e6e" stroke-width="0.50"/>
<line x1="539.8" y1="835.2" x2="557.5" y2="835.2" stroke="#6e6e6e" stroke-width="0.50"/>
<line x1="555.8" y1="760.6" x2="555.8" y2="835.2" stroke="#6e6e6e" stroke-width="0.50"/>
<polygon points="555.8,760.6 555.1,763.8 556.5,763.8" fill="#555"/>
<polygon points="555.8,835.2 555.1,832.0 556.5,832.0" fill="#555"/>
<text x="547.4" y="797.5" font-size="6.4" text-anchor="middle" fill="#3c3c3c" transform="rotate(-90 547.4 797.5)">R</text>
<text x="555.0" y="797.9" font-size="6.4" text-anchor="middle" fill="#3c3c3c" transform="rotate(-90 555.0 797.9)">FE</text>
<line x1="442.4" y1="803.0" x2="442.4" y2="857.5" stroke="#6e6e6e" stroke-width="0.50"/>
<line x1="445.6" y1="803.0" x2="445.6" y2="857.5" stroke="#6e6e6e" stroke-width="0.50"/>
<line x1="514.5" y1="803.0" x2="514.5" y2="857.5" stroke="#6e6e6e" stroke-width="0.50"/>
<line x1="519.3" y1="803.0" x2="519.3" y2="857.5" stroke="#6e6e6e" stroke-width="0.50"/>
<line x1="435.0" y1="856.2" x2="526.0" y2="856.2" stroke="#6e6e6e" stroke-width="0.50"/>
<polygon points="442.4,856.2 439.2,855.5 439.2,856.9" fill="#555"/>
<polygon points="445.6,856.2 448.8,855.5 448.8,856.9" fill="#555"/>
<polygon points="514.5,856.2 511.3,855.5 511.3,856.9" fill="#555"/>
<polygon points="519.3,856.2 522.5,855.5 522.5,856.9" fill="#555"/>
<text x="438.1" y="853.3" font-size="6.6" text-anchor="middle" fill="#3c3c3c">D</text>
<text x="479.3" y="855.1" font-size="6.4" text-anchor="middle" fill="#555"><tspan font-size="4.6" dy="-0.6">□</tspan><tspan dy="0.6">E</tspan></text>
<text x="517.2" y="855.3" font-size="6.6" text-anchor="middle" fill="#3c3c3c">C</text>
<polyline points="530.9,830.8 543.0,854.9 563.0,854.9" fill="none" stroke="#666" stroke-width="0.50" stroke-linejoin="round"/>
<text x="553.3" y="853.8" font-size="6.8" text-anchor="middle" fill="#3c3c3c" textLength="19.0" lengthAdjust="spacingAndGlyphs">4-ØFB</text>
<rect x="593.8" y="784.9" width="36.1" height="24.5" rx="0.0" fill="none" stroke="#3a3a3a" stroke-width="1.10"/>
<line x1="580.0" y1="777.4" x2="646.6" y2="777.4" stroke="#6e6e6e" stroke-width="0.50"/>
<line x1="580.0" y1="817.4" x2="646.6" y2="817.4" stroke="#6e6e6e" stroke-width="0.50"/>
<line x1="581.3" y1="777.4" x2="581.3" y2="817.4" stroke="#6e6e6e" stroke-width="0.50"/>
<polygon points="581.3,777.4 580.6,780.6 582.0,780.6" fill="#555"/>
<polygon points="581.3,817.4 580.6,814.2 582.0,814.2" fill="#555"/>
<line x1="586.5" y1="783.2" x2="631.0" y2="783.2" stroke="#6e6e6e" stroke-width="0.50"/>
<line x1="586.5" y1="811.2" x2="631.0" y2="811.2" stroke="#6e6e6e" stroke-width="0.50"/>
<line x1="588.0" y1="783.2" x2="588.0" y2="811.2" stroke="#6e6e6e" stroke-width="0.50"/>
<polygon points="588.0,783.2 587.3,786.4 588.7,786.4" fill="#555"/>
<polygon points="588.0,811.2 587.3,808.0 588.7,808.0" fill="#555"/>
<text x="579.6" y="797.3" font-size="5.8" text-anchor="middle" fill="#3c3c3c" textLength="17.0" lengthAdjust="spacingAndGlyphs" transform="rotate(-90 579.6 797.3)">ØBe8</text>
<text x="586.4" y="797.3" font-size="5.8" text-anchor="middle" fill="#3c3c3c" textLength="15.0" lengthAdjust="spacingAndGlyphs" transform="rotate(-90 586.4 797.3)">ØMM</text>
<polyline points="629.9,786.0 631.4,786.0 631.4,782.7 646.6,782.7 646.6,777.4 653.5,777.4 653.5,817.4 646.6,817.4 646.6,811.6 631.4,811.6 631.4,808.4 629.9,808.4" fill="none" stroke="#3a3a3a" stroke-width="0.90" stroke-linejoin="round"/>
<rect x="632.2" y="791.4" width="10.0" height="11.6" rx="2.2" fill="none" stroke="#555" stroke-width="0.60"/>
<line x1="632.4" y1="791.6" x2="642.0" y2="802.8" stroke="#666" stroke-width="0.50"/>
<line x1="632.4" y1="802.8" x2="642.0" y2="791.6" stroke="#666" stroke-width="0.50"/>
<line x1="647.6" y1="783.0" x2="647.6" y2="811.5" stroke="#777" stroke-width="0.60"/>
<polygon points="653.5,760.0 664.6,760.0 664.6,762.5 702.7,762.5 702.7,767.3 775.5,767.3 775.5,762.5 801.2,762.5 801.2,831.8 775.5,831.8 775.5,827.1 702.7,827.1 702.7,831.8 664.6,831.8 664.6,834.3 653.5,834.3" fill="none" stroke="#3a3a3a" stroke-width="1.10" stroke-linejoin="round"/>
<line x1="664.6" y1="762.5" x2="664.6" y2="831.8" stroke="#666" stroke-width="0.60"/>
<line x1="702.7" y1="767.3" x2="702.7" y2="827.1" stroke="#666" stroke-width="0.60"/>
<line x1="775.5" y1="767.3" x2="775.5" y2="827.1" stroke="#666" stroke-width="0.60"/>
<line x1="702.7" y1="777.4" x2="775.5" y2="777.4" stroke="#888" stroke-width="0.50"/>
<line x1="702.7" y1="817.4" x2="775.5" y2="817.4" stroke="#888" stroke-width="0.50"/>
<polyline points="801.2,763.5 811.0,763.5 814.2,766.5 814.2,777.3 811.0,780.3 801.2,780.3" fill="none" stroke="#3a3a3a" stroke-width="0.90" stroke-linejoin="round"/>
<rect x="811.8" y="767.0" width="2.4" height="9.8" rx="0.0" fill="#444" stroke="#333" stroke-width="0.30"/>
<line x1="804.5" y1="763.5" x2="804.5" y2="780.3" stroke="#777" stroke-width="0.50"/>
<line x1="808.0" y1="763.5" x2="808.0" y2="780.3" stroke="#888" stroke-width="0.50"/>
<polyline points="801.2,813.5 811.0,813.5 814.2,816.5 814.2,826.7 811.0,829.7 801.2,829.7" fill="none" stroke="#3a3a3a" stroke-width="0.90" stroke-linejoin="round"/>
<rect x="811.8" y="817.0" width="2.4" height="9.2" rx="0.0" fill="#444" stroke="#333" stroke-width="0.30"/>
<line x1="804.5" y1="813.5" x2="804.5" y2="829.7" stroke="#777" stroke-width="0.50"/>
<line x1="808.0" y1="813.5" x2="808.0" y2="829.7" stroke="#888" stroke-width="0.50"/>
<circle cx="688.7" cy="797.2" r="3.4" fill="none" stroke="#3a3a3a" stroke-width="1.00"/>
<circle cx="688.7" cy="797.2" r="1.8" fill="none" stroke="#777" stroke-width="0.40"/>
<line x1="688.7" y1="791.2" x2="688.7" y2="803.2" stroke="#777" stroke-width="0.40"/>
<line x1="683.7" y1="797.2" x2="693.7" y2="797.2" stroke="#777" stroke-width="0.40"/>
<circle cx="789.4" cy="797.2" r="3.4" fill="none" stroke="#3a3a3a" stroke-width="1.00"/>
<circle cx="789.4" cy="797.2" r="1.8" fill="none" stroke="#777" stroke-width="0.40"/>
<line x1="789.4" y1="791.2" x2="789.4" y2="803.2" stroke="#777" stroke-width="0.40"/>
<line x1="784.4" y1="797.2" x2="794.4" y2="797.2" stroke="#777" stroke-width="0.40"/>
<line x1="680.9" y1="764.0" x2="680.9" y2="776.0" stroke="#777" stroke-width="0.60" stroke-dasharray="5 2"/>
<line x1="695.9" y1="764.0" x2="695.9" y2="776.0" stroke="#777" stroke-width="0.60" stroke-dasharray="5 2"/>
<line x1="681.4" y1="777.6" x2="695.4" y2="777.6" stroke="#888" stroke-width="0.50"/>
<line x1="781.9" y1="764.0" x2="781.9" y2="776.0" stroke="#777" stroke-width="0.60" stroke-dasharray="5 2"/>
<line x1="796.9" y1="764.0" x2="796.9" y2="776.0" stroke="#777" stroke-width="0.60" stroke-dasharray="5 2"/>
<line x1="782.4" y1="777.6" x2="796.4" y2="777.6" stroke="#888" stroke-width="0.50"/>
<line x1="593.0" y1="797.2" x2="806.0" y2="797.2" stroke="#888" stroke-width="0.60" stroke-dasharray="9 8"/>
<line x1="655.0" y1="822.2" x2="812.0" y2="822.2" stroke="#888" stroke-width="0.60" stroke-dasharray="9 8"/>
<line x1="705.0" y1="772.2" x2="812.0" y2="772.2" stroke="#888" stroke-width="0.60" stroke-dasharray="9 8"/>
<line x1="593.5" y1="745.5" x2="593.5" y2="785.0" stroke="#6e6e6e" stroke-width="0.50"/>
<line x1="631.0" y1="745.5" x2="631.0" y2="854.5" stroke="#6e6e6e" stroke-width="0.50"/>
<line x1="664.3" y1="745.5" x2="664.3" y2="760.3" stroke="#6e6e6e" stroke-width="0.50"/>
<line x1="688.4" y1="745.5" x2="688.4" y2="780.0" stroke="#6e6e6e" stroke-width="0.50"/>
<line x1="593.5" y1="747.8" x2="693.0" y2="747.8" stroke="#6e6e6e" stroke-width="0.50"/>
<polygon points="593.5,747.8 596.7,747.1 596.7,748.5" fill="#555"/>
<polygon points="631.0,747.8 627.8,747.1 627.8,748.5" fill="#555"/>
<polygon points="631.0,747.8 634.2,747.1 634.2,748.5" fill="#555"/>
<polygon points="664.3,747.8 661.1,747.1 661.1,748.5" fill="#555"/>
<polygon points="664.3,747.8 667.5,747.1 667.5,748.5" fill="#555"/>
<polygon points="688.4,747.8 685.2,747.1 685.2,748.5" fill="#555"/>
<text x="608.3" y="746.3" font-size="7.0" text-anchor="middle" fill="#3c3c3c">A</text>
<text x="650.6" y="746.3" font-size="7.0" text-anchor="middle" fill="#3c3c3c" textLength="9.5" lengthAdjust="spacingAndGlyphs">WF</text>
<text x="676.2" y="746.3" font-size="7.0" text-anchor="middle" fill="#3c3c3c" textLength="8.5" lengthAdjust="spacingAndGlyphs">YP</text>
<text x="707.3" y="753.3" font-size="6.8" text-anchor="middle" fill="#3c3c3c" textLength="15.0" lengthAdjust="spacingAndGlyphs">2+EE</text>
<polyline points="688.8,762.0 692.0,755.7 710.2,755.7" fill="none" stroke="#666" stroke-width="0.50" stroke-linejoin="round"/>
<polyline points="619.0,810.0 612.5,826.0 600.0,826.0" fill="none" stroke="#666" stroke-width="0.50" stroke-linejoin="round"/>
<text x="604.7" y="824.7" font-size="6.8" text-anchor="middle" fill="#3c3c3c" textLength="9.5" lengthAdjust="spacingAndGlyphs">KK</text>
<line x1="647.7" y1="818.0" x2="647.7" y2="848.5" stroke="#6e6e6e" stroke-width="0.50"/>
<line x1="653.5" y1="834.3" x2="653.5" y2="858.5" stroke="#6e6e6e" stroke-width="0.50"/>
<line x1="664.6" y1="834.3" x2="664.6" y2="848.5" stroke="#6e6e6e" stroke-width="0.50"/>
<line x1="636.4" y1="845.6" x2="801.2" y2="845.6" stroke="#6e6e6e" stroke-width="0.50"/>
<polygon points="647.7,845.6 644.5,844.9 644.5,846.3" fill="#555"/>
<polygon points="653.5,845.6 656.7,844.9 656.7,846.3" fill="#555"/>
<polygon points="664.6,845.6 661.4,844.9 661.4,846.3" fill="#555"/>
<polygon points="664.6,845.6 667.8,844.9 667.8,846.3" fill="#555"/>
<polygon points="801.2,845.6 798.0,844.9 798.0,846.3" fill="#555"/>
<line x1="631.0" y1="853.2" x2="816.0" y2="853.2" stroke="#6e6e6e" stroke-width="0.50"/>
<polygon points="631.0,853.2 634.2,852.5 634.2,853.9" fill="#555"/>
<polygon points="653.5,853.2 650.3,852.5 650.3,853.9" fill="#555"/>
<polygon points="653.5,853.2 656.7,852.5 656.7,853.9" fill="#555"/>
<polygon points="801.2,853.2 798.0,852.5 798.0,853.9" fill="#555"/>
<polygon points="801.2,853.2 804.4,852.5 804.4,853.9" fill="#555"/>
<polygon points="814.5,853.2 811.3,852.5 811.3,853.9" fill="#555"/>
<text x="640.5" y="844.6" font-size="6.8" text-anchor="middle" fill="#3c3c3c">10</text>
<text x="659.6" y="844.3" font-size="6.8" text-anchor="middle" fill="#3c3c3c">F</text>
<text x="640.3" y="852.7" font-size="6.8" text-anchor="middle" fill="#3c3c3c">W</text>
<text x="732.2" y="844.7" font-size="7.0" text-anchor="middle" fill="#3c3c3c" textLength="30.0" lengthAdjust="spacingAndGlyphs">LL+Stroke</text>
<text x="732.6" y="853.1" font-size="7.0" text-anchor="middle" fill="#3c3c3c" textLength="31.0" lengthAdjust="spacingAndGlyphs">HL+Stroke</text>
<text x="808.9" y="852.1" font-size="6.6" text-anchor="middle" fill="#3c3c3c" textLength="8.5" lengthAdjust="spacingAndGlyphs">BB</text>
<line x1="801.2" y1="831.8" x2="801.2" y2="858.5" stroke="#6e6e6e" stroke-width="0.50"/>
<line x1="814.5" y1="829.7" x2="814.5" y2="858.5" stroke="#6e6e6e" stroke-width="0.50"/>
<polyline points="691.0,800.5 713.0,838.4 752.0,838.4" fill="none" stroke="#666" stroke-width="0.50" stroke-linejoin="round"/>
</svg>
<span class="t" style="left:93px;top:833px;font-size:15.2px;line-height:18px;color:#1a1a1a;font-weight:bold;font-style:italic;transform:translate(0.70px,0.90px) scaleX(0.953);transform-origin:0 0;">GBHC-FA</span>
<span class="t" style="left:93px;top:849px;font-size:15.2px;line-height:18px;color:#1a1a1a;font-weight:bold;font-style:italic;transform:translate(0.70px,0.20px) scaleX(0.953);transform-origin:0 0;">GCHC-FA</span>
<div class="b" style="left:164.3px;top:841.7px;width:5px;height:5px;border-radius:50%;background:#f7a51e"></div>
<div class="b" style="left:164.3px;top:857.0px;width:5px;height:5px;border-radius:50%;background:#f0683a"></div>
<span class="t" style="left:172px;top:838px;font-size:10.3px;line-height:12px;color:#2a2a2a;font-style:italic;transform:translate(0.70px,0.90px) scaleX(0.862);transform-origin:0 0;">GBHC: Çalışma Basıncı 140 kg kgf/cm</span>
<span class="t" style="left:326px;top:838px;font-size:6px;line-height:7px;color:#2a2a2a;font-style:italic;transform:translate(0.00px,0.60px) scaleX(1.000);transform-origin:0 0;">2</span>
<span class="t" style="left:172px;top:854px;font-size:10.3px;line-height:12px;color:#2a2a2a;font-style:italic;transform:translate(0.70px,0.20px) scaleX(0.859);transform-origin:0 0;">GCHC: Çalışma Basıncı 70 kg kgf/cm</span>
<span class="t" style="left:321px;top:853px;font-size:6px;line-height:7px;color:#2a2a2a;font-style:italic;transform:translate(0.00px,0.90px) scaleX(1.000);transform-origin:0 0;">2</span>
<div class="tbl" id="t2">
<div class="b" style="left:94.25px;top:871.50px;width:57.75px;height:45.00px;background:#3ba3dc;"></div>
<svg class="b" style="left:94.25px;top:871.50px" width="57.75" height="45.00" viewBox="0 0 57.75 45.00"><polygon points="0,0 57.75,45.00 0,45.00" fill="#6faade"/><line x1="0" y1="0" x2="57.75" y2="45.00" stroke="#1f5f96" stroke-width="0.9"/></svg>
<div class="b" style="left:152.00px;top:871.50px;width:120.25px;height:45.00px;background:#f9a21c;"></div>
<div class="b" style="left:272.25px;top:871.50px;width:118.00px;height:45.00px;background:#f26d3a;"></div>
<div class="b" style="left:390.25px;top:871.50px;width:424.50px;height:45.00px;background:#3ba3dc;"></div>
<div class="b" style="left:94.25px;top:871.00px;width:720.50px;height:1.00px;background:rgba(40,60,80,0.7);"></div>
<div class="b" style="left:152.00px;top:892.50px;width:238.25px;height:1.00px;background:rgba(30,20,10,0.5);"></div>
<div class="b" style="left:93.75px;top:871.50px;width:1.00px;height:45.00px;background:rgba(40,60,80,0.6);"></div>
<div class="b" style="left:151.50px;top:871.50px;width:1.00px;height:45.00px;background:rgba(30,20,10,0.5);"></div>
<div class="b" style="left:171.50px;top:893.00px;width:1.00px;height:23.50px;background:rgba(30,20,10,0.5);"></div>
<div class="b" style="left:192.75px;top:893.00px;width:1.00px;height:23.50px;background:rgba(30,20,10,0.5);"></div>
<div class="b" style="left:233.00px;top:893.00px;width:1.00px;height:23.50px;background:rgba(30,20,10,0.5);"></div>
<div class="b" style="left:254.00px;top:893.00px;width:1.00px;height:23.50px;background:rgba(30,20,10,0.5);"></div>
<div class="b" style="left:271.75px;top:871.50px;width:1.00px;height:45.00px;background:rgba(30,20,10,0.5);"></div>
<div class="b" style="left:289.00px;top:893.00px;width:1.00px;height:23.50px;background:rgba(30,20,10,0.5);"></div>
<div class="b" style="left:309.00px;top:893.00px;width:1.00px;height:23.50px;background:rgba(30,20,10,0.5);"></div>
<div class="b" style="left:348.75px;top:893.00px;width:1.00px;height:23.50px;background:rgba(30,20,10,0.5);"></div>
<div class="b" style="left:370.75px;top:893.00px;width:1.00px;height:23.50px;background:rgba(30,20,10,0.5);"></div>
<div class="b" style="left:389.75px;top:871.50px;width:1.00px;height:45.00px;background:rgba(30,20,10,0.5);"></div>
<div class="b" style="left:411.75px;top:871.50px;width:1.00px;height:45.00px;background:rgba(30,20,10,0.5);"></div>
<div class="b" style="left:462.75px;top:871.50px;width:1.00px;height:45.00px;background:rgba(30,20,10,0.5);"></div>
<div class="b" style="left:486.25px;top:871.50px;width:1.00px;height:45.00px;background:rgba(30,20,10,0.5);"></div>
<div class="b" style="left:527.75px;top:871.50px;width:1.00px;height:45.00px;background:rgba(30,20,10,0.5);"></div>
<div class="b" style="left:547.75px;top:871.50px;width:1.00px;height:45.00px;background:rgba(30,20,10,0.5);"></div>
<div class="b" style="left:568.50px;top:871.50px;width:1.00px;height:45.00px;background:rgba(30,20,10,0.5);"></div>
<div class="b" style="left:589.00px;top:871.50px;width:1.00px;height:45.00px;background:rgba(30,20,10,0.5);"></div>
<div class="b" style="left:609.50px;top:871.50px;width:1.00px;height:45.00px;background:rgba(30,20,10,0.5);"></div>
<div class="b" style="left:630.00px;top:871.50px;width:1.00px;height:45.00px;background:rgba(30,20,10,0.5);"></div>
<div class="b" style="left:650.75px;top:871.50px;width:1.00px;height:45.00px;background:rgba(30,20,10,0.5);"></div>
<div class="b" style="left:671.00px;top:871.50px;width:1.00px;height:45.00px;background:rgba(30,20,10,0.5);"></div>
<div class="b" style="left:691.50px;top:871.50px;width:1.00px;height:45.00px;background:rgba(30,20,10,0.5);"></div>
<div class="b" style="left:712.00px;top:871.50px;width:1.00px;height:45.00px;background:rgba(30,20,10,0.5);"></div>
<div class="b" style="left:732.50px;top:871.50px;width:1.00px;height:45.00px;background:rgba(30,20,10,0.5);"></div>
<div class="b" style="left:753.00px;top:871.50px;width:1.00px;height:45.00px;background:rgba(30,20,10,0.5);"></div>
<div class="b" style="left:775.00px;top:871.50px;width:1.00px;height:45.00px;background:rgba(30,20,10,0.5);"></div>
<div class="b" style="left:793.75px;top:871.50px;width:1.00px;height:45.00px;background:rgba(30,20,10,0.5);"></div>
<div class="b" style="left:814.25px;top:871.50px;width:1.00px;height:45.00px;background:rgba(40,60,80,0.6);"></div>
<div class="b" style="left:94.25px;top:916.00px;width:720.50px;height:1.00px;background:rgba(30,20,10,0.5);"></div>
<div class="b" style="left:93.75px;top:916.50px;width:1.00px;height:125.10px;background:#979797;"></div>
<div class="b" style="left:151.50px;top:916.50px;width:1.00px;height:125.10px;background:#979797;"></div>
<div class="b" style="left:171.50px;top:916.50px;width:1.00px;height:125.10px;background:#979797;"></div>
<div class="b" style="left:192.75px;top:916.50px;width:1.00px;height:125.10px;background:#979797;"></div>
<div class="b" style="left:233.00px;top:916.50px;width:1.00px;height:125.10px;background:#979797;"></div>
<div class="b" style="left:254.00px;top:916.50px;width:1.00px;height:125.10px;background:#979797;"></div>
<div class="b" style="left:271.75px;top:916.50px;width:1.00px;height:125.10px;background:#979797;"></div>
<div class="b" style="left:289.00px;top:916.50px;width:1.00px;height:125.10px;background:#979797;"></div>
<div class="b" style="left:309.00px;top:916.50px;width:1.00px;height:125.10px;background:#979797;"></div>
<div class="b" style="left:348.75px;top:916.50px;width:1.00px;height:125.10px;background:#979797;"></div>
<div class="b" style="left:370.75px;top:916.50px;width:1.00px;height:125.10px;background:#979797;"></div>
<div class="b" style="left:389.75px;top:916.50px;width:1.00px;height:125.10px;background:#979797;"></div>
<div class="b" style="left:411.75px;top:916.50px;width:1.00px;height:125.10px;background:#979797;"></div>
<div class="b" style="left:462.75px;top:916.50px;width:1.00px;height:125.10px;background:#979797;"></div>
<div class="b" style="left:486.25px;top:916.50px;width:1.00px;height:125.10px;background:#979797;"></div>
<div class="b" style="left:527.75px;top:916.50px;width:1.00px;height:125.10px;background:#979797;"></div>
<div class="b" style="left:547.75px;top:916.50px;width:1.00px;height:125.10px;background:#979797;"></div>
<div class="b" style="left:568.50px;top:916.50px;width:1.00px;height:125.10px;background:#979797;"></div>
<div class="b" style="left:589.00px;top:916.50px;width:1.00px;height:125.10px;background:#979797;"></div>
<div class="b" style="left:609.50px;top:916.50px;width:1.00px;height:125.10px;background:#979797;"></div>
<div class="b" style="left:630.00px;top:916.50px;width:1.00px;height:125.10px;background:#979797;"></div>
<div class="b" style="left:650.75px;top:916.50px;width:1.00px;height:125.10px;background:#979797;"></div>
<div class="b" style="left:671.00px;top:916.50px;width:1.00px;height:125.10px;background:#979797;"></div>
<div class="b" style="left:691.50px;top:916.50px;width:1.00px;height:125.10px;background:#979797;"></div>
<div class="b" style="left:712.00px;top:916.50px;width:1.00px;height:125.10px;background:#979797;"></div>
<div class="b" style="left:732.50px;top:916.50px;width:1.00px;height:125.10px;background:#979797;"></div>
<div class="b" style="left:753.00px;top:916.50px;width:1.00px;height:125.10px;background:#979797;"></div>
<div class="b" style="left:775.00px;top:916.50px;width:1.00px;height:125.10px;background:#979797;"></div>
<div class="b" style="left:793.75px;top:916.50px;width:1.00px;height:125.10px;background:#979797;"></div>
<div class="b" style="left:814.25px;top:916.50px;width:1.00px;height:125.10px;background:#979797;"></div>
<div class="b" style="left:93.75px;top:936.90px;width:721.50px;height:1.00px;background:#979797;"></div>
<div class="b" style="left:93.75px;top:958.00px;width:721.50px;height:1.00px;background:#979797;"></div>
<div class="b" style="left:93.75px;top:979.30px;width:721.50px;height:1.00px;background:#979797;"></div>
<div class="b" style="left:93.75px;top:1000.10px;width:721.50px;height:1.00px;background:#979797;"></div>
<div class="b" style="left:93.75px;top:1021.50px;width:721.50px;height:1.00px;background:#979797;"></div>
<div class="b" style="left:93.75px;top:1041.10px;width:721.50px;height:1.00px;background:#979797;"></div>
<span class="t" style="left:107px;top:874px;font-size:10.8px;line-height:13px;color:#fff;font-weight:bold;transform:translate(0.19px,0.50px) scaleX(0.815);transform-origin:100% 0;">Sembol</span>
<span class="t" style="left:96px;top:893px;font-size:10.3px;line-height:12px;color:#fff;font-weight:bold;transform:translate(0.25px,0.00px) scaleX(0.845);transform-origin:0 0;">Silindir</span>
<span class="t" style="left:96px;top:901px;font-size:10.3px;line-height:12px;color:#fff;font-weight:bold;transform:translate(0.25px,0.60px) scaleX(0.889);transform-origin:0 0;">iç çapı</span>
<span class="t" style="left:147px;top:873px;font-size:13px;line-height:16px;color:#fff;transform:translate(0.47px,0.10px) scaleX(0.825);transform-origin:50% 0;">B Tip Pistonlu (GBHC)</span>
<span class="t" style="left:265px;top:873px;font-size:13px;line-height:16px;color:#fff;transform:translate(0.87px,0.10px) scaleX(0.816);transform-origin:50% 0;">C Tip Pistonlu (GCHC)</span>
<span class="t" style="left:157px;top:897px;font-size:13px;line-height:16px;color:#fff;transform:translate(0.66px,0.40px) scaleX(0.850);transform-origin:50% 0;">A</span>
<span class="t" style="left:171px;top:897px;font-size:13px;line-height:16px;color:#fff;transform:translate(0.06px,0.40px) scaleX(0.850);transform-origin:50% 0;">Be8</span>
<span class="t" style="left:204px;top:897px;font-size:13px;line-height:16px;color:#fff;transform:translate(0.70px,0.40px) scaleX(0.850);transform-origin:50% 0;">KK</span>
<span class="t" style="left:233px;top:897px;font-size:13px;line-height:16px;color:#fff;transform:translate(0.17px,0.40px) scaleX(0.850);transform-origin:50% 0;">MM</span>
<span class="t" style="left:259px;top:897px;font-size:13px;line-height:16px;color:#fff;transform:translate(0.04px,0.40px) scaleX(0.850);transform-origin:50% 0;">S</span>
<span class="t" style="left:276px;top:897px;font-size:13px;line-height:16px;color:#fff;transform:translate(0.54px,0.40px) scaleX(0.850);transform-origin:50% 0;">A</span>
<span class="t" style="left:287px;top:897px;font-size:13px;line-height:16px;color:#fff;transform:translate(0.93px,0.40px) scaleX(0.800);transform-origin:50% 0;">Be8</span>
<span class="t" style="left:320px;top:897px;font-size:13px;line-height:16px;color:#fff;transform:translate(0.70px,0.40px) scaleX(0.850);transform-origin:50% 0;">KK</span>
<span class="t" style="left:349px;top:897px;font-size:13px;line-height:16px;color:#fff;transform:translate(0.42px,0.40px) scaleX(0.850);transform-origin:50% 0;">MM</span>
<span class="t" style="left:376px;top:897px;font-size:13px;line-height:16px;color:#fff;transform:translate(0.41px,0.40px) scaleX(0.850);transform-origin:50% 0;">S</span>
<span class="t" style="left:392px;top:881px;font-size:13px;line-height:16px;color:#fff;transform:translate(0.58px,0.70px) scaleX(0.850);transform-origin:50% 0;">BB</span>
<span class="t" style="left:428px;top:881px;font-size:13px;line-height:16px;color:#fff;transform:translate(0.36px,0.70px) scaleX(0.850);transform-origin:50% 0;">DD</span>
<span class="t" style="left:470px;top:881px;font-size:13px;line-height:16px;color:#fff;transform:translate(0.66px,0.70px) scaleX(0.850);transform-origin:50% 0;">E</span>
<span class="t" style="left:498px;top:881px;font-size:13px;line-height:16px;color:#fff;transform:translate(0.83px,0.70px) scaleX(0.850);transform-origin:50% 0;">EE</span>
<span class="t" style="left:534px;top:881px;font-size:13px;line-height:16px;color:#fff;transform:translate(0.28px,0.70px) scaleX(0.850);transform-origin:50% 0;">F</span>
<span class="t" style="left:550px;top:881px;font-size:13px;line-height:16px;color:#fff;transform:translate(0.32px,0.70px) scaleX(0.850);transform-origin:50% 0;">FB</span>
<span class="t" style="left:570px;top:881px;font-size:13px;line-height:16px;color:#fff;transform:translate(0.94px,0.70px) scaleX(0.850);transform-origin:50% 0;">FE</span>
<span class="t" style="left:595px;top:881px;font-size:13px;line-height:16px;color:#fff;transform:translate(0.06px,0.70px) scaleX(0.850);transform-origin:50% 0;">H</span>
<span class="t" style="left:611px;top:881px;font-size:13px;line-height:16px;color:#fff;transform:translate(0.94px,0.70px) scaleX(0.850);transform-origin:50% 0;">HL</span>
<span class="t" style="left:633px;top:881px;font-size:13px;line-height:16px;color:#fff;transform:translate(0.64px,0.70px) scaleX(0.850);transform-origin:50% 0;">LL</span>
<span class="t" style="left:653px;top:881px;font-size:13px;line-height:16px;color:#fff;transform:translate(0.79px,0.70px) scaleX(0.850);transform-origin:50% 0;">LZ</span>
<span class="t" style="left:677px;top:881px;font-size:13px;line-height:16px;color:#fff;transform:translate(0.06px,0.70px) scaleX(0.850);transform-origin:50% 0;">R</span>
<span class="t" style="left:694px;top:881px;font-size:13px;line-height:16px;color:#fff;transform:translate(0.31px,0.70px) scaleX(0.850);transform-origin:50% 0;">TF</span>
<span class="t" style="left:714px;top:881px;font-size:13px;line-height:16px;color:#fff;transform:translate(0.09px,0.70px) scaleX(0.850);transform-origin:50% 0;">UF</span>
<span class="t" style="left:737px;top:881px;font-size:13px;line-height:16px;color:#fff;transform:translate(0.12px,0.70px) scaleX(0.850);transform-origin:50% 0;">W</span>
<span class="t" style="left:754px;top:881px;font-size:13px;line-height:16px;color:#fff;transform:translate(0.39px,0.70px) scaleX(0.850);transform-origin:50% 0;">WF</span>
<span class="t" style="left:776px;top:881px;font-size:13px;line-height:16px;color:#fff;transform:translate(0.20px,0.70px) scaleX(0.850);transform-origin:50% 0;">YP</span>
<span class="t" style="left:795px;top:881px;font-size:13px;line-height:16px;color:#fff;transform:translate(0.84px,0.70px) scaleX(0.850);transform-origin:50% 0;">ZR</span>
<span class="t" style="left:109px;top:921px;font-size:10.3px;line-height:12px;color:#222;font-weight:bold;transform:translate(0.23px,0.30px) scaleX(0.992);transform-origin:50% 0;white-space:pre;">Ø  32</span>
<span class="t n" style="left:155px;top:919px;font-size:12.2px;line-height:15px;color:#2a2a2a;transform:translate(0.21px,0.90px) scaleX(0.853);transform-origin:50% 0;">25</span>
<span class="t n" style="left:175px;top:919px;font-size:12.2px;line-height:15px;color:#2a2a2a;transform:translate(0.84px,0.90px) scaleX(0.853);transform-origin:50% 0;">34</span>
<span class="t n" style="left:190px;top:919px;font-size:12.2px;line-height:15px;color:#2a2a2a;transform:translate(0.65px,0.90px) scaleX(0.782);transform-origin:50% 0;">M16*1.5</span>
<span class="t n" style="left:237px;top:919px;font-size:12.2px;line-height:15px;color:#2a2a2a;transform:translate(0.21px,0.90px) scaleX(0.853);transform-origin:50% 0;">18</span>
<span class="t n" style="left:256px;top:919px;font-size:12.2px;line-height:15px;color:#2a2a2a;transform:translate(0.59px,0.90px) scaleX(0.853);transform-origin:50% 0;">17</span>
<span class="t n" style="left:275px;top:919px;font-size:12.2px;line-height:15px;color:#2a2a2a;transform:translate(0.79px,0.90px) scaleX(0.900);transform-origin:50% 0;">...</span>
<span class="t n" style="left:294px;top:919px;font-size:12.2px;line-height:15px;color:#2a2a2a;transform:translate(0.42px,0.90px) scaleX(0.900);transform-origin:50% 0;">...</span>
<span class="t n" style="left:324px;top:919px;font-size:12.2px;line-height:15px;color:#2a2a2a;transform:translate(0.29px,0.90px) scaleX(0.900);transform-origin:50% 0;">...</span>
<span class="t n" style="left:355px;top:919px;font-size:12.2px;line-height:15px;color:#2a2a2a;transform:translate(0.17px,0.90px) scaleX(0.900);transform-origin:50% 0;">...</span>
<span class="t n" style="left:375px;top:919px;font-size:12.2px;line-height:15px;color:#2a2a2a;transform:translate(0.67px,0.90px) scaleX(0.900);transform-origin:50% 0;">...</span>
<span class="t n" style="left:394px;top:919px;font-size:12.2px;line-height:15px;color:#2a2a2a;transform:translate(0.46px,0.90px) scaleX(0.853);transform-origin:50% 0;">13</span>
<span class="t n" style="left:415px;top:919px;font-size:12.2px;line-height:15px;color:#2a2a2a;transform:translate(0.03px,0.90px) scaleX(0.782);transform-origin:50% 0;">M10*1.5</span>
<span class="t n" style="left:468px;top:919px;font-size:12.2px;line-height:15px;color:#2a2a2a;transform:translate(0.21px,0.90px) scaleX(0.853);transform-origin:50% 0;">58</span>
<span class="t n" style="left:491px;top:919px;font-size:12.2px;line-height:15px;color:#2a2a2a;transform:translate(0.56px,0.90px) scaleX(0.770);transform-origin:50% 0;">Rc3/8</span>
<span class="t n" style="left:531px;top:919px;font-size:12.2px;line-height:15px;color:#2a2a2a;transform:translate(0.92px,0.90px) scaleX(0.853);transform-origin:50% 0;">11</span>
<span class="t n" style="left:552px;top:919px;font-size:12.2px;line-height:15px;color:#2a2a2a;transform:translate(0.29px,0.90px) scaleX(0.853);transform-origin:50% 0;">11</span>
<span class="t n" style="left:572px;top:919px;font-size:12.2px;line-height:15px;color:#2a2a2a;transform:translate(0.46px,0.90px) scaleX(0.853);transform-origin:50% 0;">62</span>
<span class="t n" style="left:592px;top:919px;font-size:12.2px;line-height:15px;color:#2a2a2a;transform:translate(0.96px,0.90px) scaleX(0.853);transform-origin:50% 0;">54</span>
<span class="t n" style="left:610px;top:919px;font-size:12.2px;line-height:15px;color:#2a2a2a;transform:translate(0.07px,0.90px) scaleX(0.853);transform-origin:50% 0;">141</span>
<span class="t n" style="left:630px;top:919px;font-size:12.2px;line-height:15px;color:#2a2a2a;transform:translate(0.70px,0.90px) scaleX(0.853);transform-origin:50% 0;">130</span>
<span class="t n" style="left:651px;top:919px;font-size:12.2px;line-height:15px;color:#2a2a2a;transform:translate(0.20px,0.90px) scaleX(0.853);transform-origin:50% 0;">166</span>
<span class="t n" style="left:674px;top:919px;font-size:12.2px;line-height:15px;color:#2a2a2a;transform:translate(0.96px,0.90px) scaleX(0.853);transform-origin:50% 0;">40</span>
<span class="t n" style="left:695px;top:919px;font-size:12.2px;line-height:15px;color:#2a2a2a;transform:translate(0.46px,0.90px) scaleX(0.853);transform-origin:50% 0;">88</span>
<span class="t n" style="left:712px;top:919px;font-size:12.2px;line-height:15px;color:#2a2a2a;transform:translate(0.57px,0.90px) scaleX(0.853);transform-origin:50% 0;">109</span>
<span class="t n" style="left:736px;top:919px;font-size:12.2px;line-height:15px;color:#2a2a2a;transform:translate(0.46px,0.90px) scaleX(0.853);transform-origin:50% 0;">30</span>
<span class="t n" style="left:757px;top:919px;font-size:12.2px;line-height:15px;color:#2a2a2a;transform:translate(0.71px,0.90px) scaleX(0.853);transform-origin:50% 0;">41</span>
<span class="t n" style="left:778px;top:919px;font-size:12.2px;line-height:15px;color:#2a2a2a;transform:translate(0.09px,0.90px) scaleX(0.853);transform-origin:50% 0;">27</span>
<span class="t n" style="left:794px;top:919px;font-size:12.2px;line-height:15px;color:#2a2a2a;transform:translate(0.32px,0.90px) scaleX(0.853);transform-origin:50% 0;">196</span>
<span class="t" style="left:109px;top:942px;font-size:10.3px;line-height:12px;color:#222;font-weight:bold;transform:translate(0.23px,0.47px) scaleX(0.992);transform-origin:50% 0;white-space:pre;">Ø  40</span>
<span class="t n" style="left:155px;top:941px;font-size:12.2px;line-height:15px;color:#2a2a2a;transform:translate(0.21px,0.07px) scaleX(0.853);transform-origin:50% 0;">30</span>
<span class="t n" style="left:175px;top:941px;font-size:12.2px;line-height:15px;color:#2a2a2a;transform:translate(0.84px,0.07px) scaleX(0.853);transform-origin:50% 0;">40</span>
<span class="t n" style="left:190px;top:941px;font-size:12.2px;line-height:15px;color:#2a2a2a;transform:translate(0.65px,0.07px) scaleX(0.782);transform-origin:50% 0;">M20*1.5</span>
<span class="t n" style="left:232px;top:941px;font-size:12.2px;line-height:15px;color:#2a2a2a;transform:translate(0.13px,0.07px) scaleX(0.809);transform-origin:50% 0;">22.4</span>
<span class="t n" style="left:256px;top:941px;font-size:12.2px;line-height:15px;color:#2a2a2a;transform:translate(0.59px,0.07px) scaleX(0.853);transform-origin:50% 0;">21</span>
<span class="t n" style="left:274px;top:941px;font-size:12.2px;line-height:15px;color:#2a2a2a;transform:translate(0.09px,0.07px) scaleX(0.853);transform-origin:50% 0;">25</span>
<span class="t n" style="left:292px;top:941px;font-size:12.2px;line-height:15px;color:#2a2a2a;transform:translate(0.71px,0.07px) scaleX(0.853);transform-origin:50% 0;">36</span>
<span class="t n" style="left:306px;top:941px;font-size:12.2px;line-height:15px;color:#2a2a2a;transform:translate(0.65px,0.07px) scaleX(0.782);transform-origin:50% 0;">M16*1.5</span>
<span class="t n" style="left:353px;top:941px;font-size:12.2px;line-height:15px;color:#2a2a2a;transform:translate(0.46px,0.07px) scaleX(0.853);transform-origin:50% 0;">18</span>
<span class="t n" style="left:373px;top:941px;font-size:12.2px;line-height:15px;color:#2a2a2a;transform:translate(0.96px,0.07px) scaleX(0.853);transform-origin:50% 0;">17</span>
<span class="t n" style="left:394px;top:941px;font-size:12.2px;line-height:15px;color:#2a2a2a;transform:translate(0.46px,0.07px) scaleX(0.853);transform-origin:50% 0;">13</span>
<span class="t n" style="left:415px;top:941px;font-size:12.2px;line-height:15px;color:#2a2a2a;transform:translate(0.03px,0.07px) scaleX(0.782);transform-origin:50% 0;">M10*1.5</span>
<span class="t n" style="left:468px;top:941px;font-size:12.2px;line-height:15px;color:#2a2a2a;transform:translate(0.21px,0.07px) scaleX(0.853);transform-origin:50% 0;">65</span>
<span class="t n" style="left:491px;top:941px;font-size:12.2px;line-height:15px;color:#2a2a2a;transform:translate(0.56px,0.07px) scaleX(0.770);transform-origin:50% 0;">Rc3/8</span>
<span class="t n" style="left:531px;top:941px;font-size:12.2px;line-height:15px;color:#2a2a2a;transform:translate(0.92px,0.07px) scaleX(0.853);transform-origin:50% 0;">11</span>
<span class="t n" style="left:552px;top:941px;font-size:12.2px;line-height:15px;color:#2a2a2a;transform:translate(0.29px,0.07px) scaleX(0.853);transform-origin:50% 0;">11</span>
<span class="t n" style="left:572px;top:941px;font-size:12.2px;line-height:15px;color:#2a2a2a;transform:translate(0.46px,0.07px) scaleX(0.853);transform-origin:50% 0;">69</span>
<span class="t n" style="left:592px;top:941px;font-size:12.2px;line-height:15px;color:#2a2a2a;transform:translate(0.96px,0.07px) scaleX(0.853);transform-origin:50% 0;">54</span>
<span class="t n" style="left:610px;top:941px;font-size:12.2px;line-height:15px;color:#2a2a2a;transform:translate(0.07px,0.07px) scaleX(0.853);transform-origin:50% 0;">141</span>
<span class="t n" style="left:630px;top:941px;font-size:12.2px;line-height:15px;color:#2a2a2a;transform:translate(0.70px,0.07px) scaleX(0.853);transform-origin:50% 0;">130</span>
<span class="t n" style="left:651px;top:941px;font-size:12.2px;line-height:15px;color:#2a2a2a;transform:translate(0.20px,0.07px) scaleX(0.853);transform-origin:50% 0;">166</span>
<span class="t n" style="left:674px;top:941px;font-size:12.2px;line-height:15px;color:#2a2a2a;transform:translate(0.96px,0.07px) scaleX(0.853);transform-origin:50% 0;">46</span>
<span class="t n" style="left:695px;top:941px;font-size:12.2px;line-height:15px;color:#2a2a2a;transform:translate(0.46px,0.07px) scaleX(0.853);transform-origin:50% 0;">95</span>
<span class="t n" style="left:713px;top:941px;font-size:12.2px;line-height:15px;color:#2a2a2a;transform:translate(0.02px,0.07px) scaleX(0.853);transform-origin:50% 0;">118</span>
<span class="t n" style="left:736px;top:941px;font-size:12.2px;line-height:15px;color:#2a2a2a;transform:translate(0.46px,0.07px) scaleX(0.853);transform-origin:50% 0;">30</span>
<span class="t n" style="left:757px;top:941px;font-size:12.2px;line-height:15px;color:#2a2a2a;transform:translate(0.71px,0.07px) scaleX(0.853);transform-origin:50% 0;">41</span>
<span class="t n" style="left:778px;top:941px;font-size:12.2px;line-height:15px;color:#2a2a2a;transform:translate(0.09px,0.07px) scaleX(0.853);transform-origin:50% 0;">27</span>
<span class="t n" style="left:794px;top:941px;font-size:12.2px;line-height:15px;color:#2a2a2a;transform:translate(0.32px,0.07px) scaleX(0.853);transform-origin:50% 0;">196</span>
<span class="t" style="left:109px;top:963px;font-size:10.3px;line-height:12px;color:#222;font-weight:bold;transform:translate(0.23px,0.64px) scaleX(0.992);transform-origin:50% 0;white-space:pre;">Ø  50</span>
<span class="t n" style="left:155px;top:962px;font-size:12.2px;line-height:15px;color:#2a2a2a;transform:translate(0.21px,0.24px) scaleX(0.853);transform-origin:50% 0;">35</span>
<span class="t n" style="left:175px;top:962px;font-size:12.2px;line-height:15px;color:#2a2a2a;transform:translate(0.84px,0.24px) scaleX(0.853);transform-origin:50% 0;">46</span>
<span class="t n" style="left:190px;top:962px;font-size:12.2px;line-height:15px;color:#2a2a2a;transform:translate(0.65px,0.24px) scaleX(0.782);transform-origin:50% 0;">M24*1.5</span>
<span class="t n" style="left:237px;top:962px;font-size:12.2px;line-height:15px;color:#2a2a2a;transform:translate(0.21px,0.24px) scaleX(0.853);transform-origin:50% 0;">28</span>
<span class="t n" style="left:256px;top:962px;font-size:12.2px;line-height:15px;color:#2a2a2a;transform:translate(0.59px,0.24px) scaleX(0.853);transform-origin:50% 0;">25</span>
<span class="t n" style="left:274px;top:962px;font-size:12.2px;line-height:15px;color:#2a2a2a;transform:translate(0.09px,0.24px) scaleX(0.853);transform-origin:50% 0;">30</span>
<span class="t n" style="left:292px;top:962px;font-size:12.2px;line-height:15px;color:#2a2a2a;transform:translate(0.71px,0.24px) scaleX(0.853);transform-origin:50% 0;">40</span>
<span class="t n" style="left:306px;top:962px;font-size:12.2px;line-height:15px;color:#2a2a2a;transform:translate(0.65px,0.24px) scaleX(0.782);transform-origin:50% 0;">M20*1.5</span>
<span class="t n" style="left:348px;top:962px;font-size:12.2px;line-height:15px;color:#2a2a2a;transform:translate(0.38px,0.24px) scaleX(0.851);transform-origin:50% 0;">22.4</span>
<span class="t n" style="left:373px;top:962px;font-size:12.2px;line-height:15px;color:#2a2a2a;transform:translate(0.96px,0.24px) scaleX(0.853);transform-origin:50% 0;">21</span>
<span class="t n" style="left:394px;top:962px;font-size:12.2px;line-height:15px;color:#2a2a2a;transform:translate(0.46px,0.24px) scaleX(0.853);transform-origin:50% 0;">13</span>
<span class="t n" style="left:415px;top:962px;font-size:12.2px;line-height:15px;color:#2a2a2a;transform:translate(0.03px,0.24px) scaleX(0.782);transform-origin:50% 0;">M10*1.5</span>
<span class="t n" style="left:468px;top:962px;font-size:12.2px;line-height:15px;color:#2a2a2a;transform:translate(0.21px,0.24px) scaleX(0.853);transform-origin:50% 0;">76</span>
<span class="t n" style="left:491px;top:962px;font-size:12.2px;line-height:15px;color:#2a2a2a;transform:translate(0.56px,0.24px) scaleX(0.770);transform-origin:50% 0;">Rc1/2</span>
<span class="t n" style="left:531px;top:962px;font-size:12.2px;line-height:15px;color:#2a2a2a;transform:translate(0.46px,0.24px) scaleX(0.853);transform-origin:50% 0;">13</span>
<span class="t n" style="left:551px;top:962px;font-size:12.2px;line-height:15px;color:#2a2a2a;transform:translate(0.84px,0.24px) scaleX(0.853);transform-origin:50% 0;">14</span>
<span class="t n" style="left:572px;top:962px;font-size:12.2px;line-height:15px;color:#2a2a2a;transform:translate(0.46px,0.24px) scaleX(0.853);transform-origin:50% 0;">85</span>
<span class="t n" style="left:592px;top:962px;font-size:12.2px;line-height:15px;color:#2a2a2a;transform:translate(0.96px,0.24px) scaleX(0.853);transform-origin:50% 0;">58</span>
<span class="t n" style="left:610px;top:962px;font-size:12.2px;line-height:15px;color:#2a2a2a;transform:translate(0.07px,0.24px) scaleX(0.853);transform-origin:50% 0;">155</span>
<span class="t n" style="left:630px;top:962px;font-size:12.2px;line-height:15px;color:#2a2a2a;transform:translate(0.70px,0.24px) scaleX(0.853);transform-origin:50% 0;">142</span>
<span class="t n" style="left:651px;top:962px;font-size:12.2px;line-height:15px;color:#2a2a2a;transform:translate(0.20px,0.24px) scaleX(0.853);transform-origin:50% 0;">182</span>
<span class="t n" style="left:674px;top:962px;font-size:12.2px;line-height:15px;color:#2a2a2a;transform:translate(0.96px,0.24px) scaleX(0.853);transform-origin:50% 0;">58</span>
<span class="t n" style="left:692px;top:962px;font-size:12.2px;line-height:15px;color:#2a2a2a;transform:translate(0.52px,0.24px) scaleX(0.853);transform-origin:50% 0;">115</span>
<span class="t n" style="left:712px;top:962px;font-size:12.2px;line-height:15px;color:#2a2a2a;transform:translate(0.57px,0.24px) scaleX(0.853);transform-origin:50% 0;">145</span>
<span class="t n" style="left:736px;top:962px;font-size:12.2px;line-height:15px;color:#2a2a2a;transform:translate(0.46px,0.24px) scaleX(0.853);transform-origin:50% 0;">30</span>
<span class="t n" style="left:757px;top:962px;font-size:12.2px;line-height:15px;color:#2a2a2a;transform:translate(0.71px,0.24px) scaleX(0.853);transform-origin:50% 0;">43</span>
<span class="t n" style="left:778px;top:962px;font-size:12.2px;line-height:15px;color:#2a2a2a;transform:translate(0.09px,0.24px) scaleX(0.853);transform-origin:50% 0;">29</span>
<span class="t n" style="left:794px;top:962px;font-size:12.2px;line-height:15px;color:#2a2a2a;transform:translate(0.32px,0.24px) scaleX(0.853);transform-origin:50% 0;">212</span>
<span class="t" style="left:109px;top:984px;font-size:10.3px;line-height:12px;color:#222;font-weight:bold;transform:translate(0.23px,0.81px) scaleX(0.992);transform-origin:50% 0;white-space:pre;">Ø  63</span>
<span class="t n" style="left:155px;top:983px;font-size:12.2px;line-height:15px;color:#2a2a2a;transform:translate(0.21px,0.41px) scaleX(0.853);transform-origin:50% 0;">45</span>
<span class="t n" style="left:175px;top:983px;font-size:12.2px;line-height:15px;color:#2a2a2a;transform:translate(0.84px,0.41px) scaleX(0.853);transform-origin:50% 0;">55</span>
<span class="t n" style="left:190px;top:983px;font-size:12.2px;line-height:15px;color:#2a2a2a;transform:translate(0.65px,0.41px) scaleX(0.782);transform-origin:50% 0;">M30*1.5</span>
<span class="t n" style="left:232px;top:983px;font-size:12.2px;line-height:15px;color:#2a2a2a;transform:translate(0.13px,0.41px) scaleX(0.809);transform-origin:50% 0;">35.5</span>
<span class="t n" style="left:256px;top:983px;font-size:12.2px;line-height:15px;color:#2a2a2a;transform:translate(0.59px,0.41px) scaleX(0.853);transform-origin:50% 0;">32</span>
<span class="t n" style="left:274px;top:983px;font-size:12.2px;line-height:15px;color:#2a2a2a;transform:translate(0.09px,0.41px) scaleX(0.853);transform-origin:50% 0;">35</span>
<span class="t n" style="left:292px;top:983px;font-size:12.2px;line-height:15px;color:#2a2a2a;transform:translate(0.71px,0.41px) scaleX(0.853);transform-origin:50% 0;">46</span>
<span class="t n" style="left:306px;top:983px;font-size:12.2px;line-height:15px;color:#2a2a2a;transform:translate(0.65px,0.41px) scaleX(0.782);transform-origin:50% 0;">M24*1.5</span>
<span class="t n" style="left:353px;top:983px;font-size:12.2px;line-height:15px;color:#2a2a2a;transform:translate(0.46px,0.41px) scaleX(0.853);transform-origin:50% 0;">28</span>
<span class="t n" style="left:373px;top:983px;font-size:12.2px;line-height:15px;color:#2a2a2a;transform:translate(0.96px,0.41px) scaleX(0.853);transform-origin:50% 0;">25</span>
<span class="t n" style="left:394px;top:983px;font-size:12.2px;line-height:15px;color:#2a2a2a;transform:translate(0.46px,0.41px) scaleX(0.853);transform-origin:50% 0;">17</span>
<span class="t n" style="left:415px;top:983px;font-size:12.2px;line-height:15px;color:#2a2a2a;transform:translate(0.03px,0.41px) scaleX(0.782);transform-origin:50% 0;">M12*1.5</span>
<span class="t n" style="left:468px;top:983px;font-size:12.2px;line-height:15px;color:#2a2a2a;transform:translate(0.21px,0.41px) scaleX(0.853);transform-origin:50% 0;">90</span>
<span class="t n" style="left:491px;top:983px;font-size:12.2px;line-height:15px;color:#2a2a2a;transform:translate(0.56px,0.41px) scaleX(0.770);transform-origin:50% 0;">Rc1/2</span>
<span class="t n" style="left:531px;top:983px;font-size:12.2px;line-height:15px;color:#2a2a2a;transform:translate(0.46px,0.41px) scaleX(0.853);transform-origin:50% 0;">15</span>
<span class="t n" style="left:551px;top:983px;font-size:12.2px;line-height:15px;color:#2a2a2a;transform:translate(0.84px,0.41px) scaleX(0.853);transform-origin:50% 0;">18</span>
<span class="t n" style="left:572px;top:983px;font-size:12.2px;line-height:15px;color:#2a2a2a;transform:translate(0.46px,0.41px) scaleX(0.853);transform-origin:50% 0;">98</span>
<span class="t n" style="left:592px;top:983px;font-size:12.2px;line-height:15px;color:#2a2a2a;transform:translate(0.96px,0.41px) scaleX(0.853);transform-origin:50% 0;">62</span>
<span class="t n" style="left:610px;top:983px;font-size:12.2px;line-height:15px;color:#2a2a2a;transform:translate(0.07px,0.41px) scaleX(0.853);transform-origin:50% 0;">163</span>
<span class="t n" style="left:630px;top:983px;font-size:12.2px;line-height:15px;color:#2a2a2a;transform:translate(0.70px,0.41px) scaleX(0.853);transform-origin:50% 0;">148</span>
<span class="t n" style="left:651px;top:983px;font-size:12.2px;line-height:15px;color:#2a2a2a;transform:translate(0.20px,0.41px) scaleX(0.853);transform-origin:50% 0;">194</span>
<span class="t n" style="left:674px;top:983px;font-size:12.2px;line-height:15px;color:#2a2a2a;transform:translate(0.96px,0.41px) scaleX(0.853);transform-origin:50% 0;">65</span>
<span class="t n" style="left:692px;top:983px;font-size:12.2px;line-height:15px;color:#2a2a2a;transform:translate(0.07px,0.41px) scaleX(0.853);transform-origin:50% 0;">132</span>
<span class="t n" style="left:712px;top:983px;font-size:12.2px;line-height:15px;color:#2a2a2a;transform:translate(0.57px,0.41px) scaleX(0.853);transform-origin:50% 0;">165</span>
<span class="t n" style="left:736px;top:983px;font-size:12.2px;line-height:15px;color:#2a2a2a;transform:translate(0.46px,0.41px) scaleX(0.853);transform-origin:50% 0;">35</span>
<span class="t n" style="left:757px;top:983px;font-size:12.2px;line-height:15px;color:#2a2a2a;transform:translate(0.71px,0.41px) scaleX(0.853);transform-origin:50% 0;">50</span>
<span class="t n" style="left:778px;top:983px;font-size:12.2px;line-height:15px;color:#2a2a2a;transform:translate(0.09px,0.41px) scaleX(0.853);transform-origin:50% 0;">31</span>
<span class="t n" style="left:794px;top:983px;font-size:12.2px;line-height:15px;color:#2a2a2a;transform:translate(0.32px,0.41px) scaleX(0.853);transform-origin:50% 0;">229</span>
<span class="t" style="left:109px;top:1005px;font-size:10.3px;line-height:12px;color:#222;font-weight:bold;transform:translate(0.23px,0.98px) scaleX(0.992);transform-origin:50% 0;white-space:pre;">Ø  80</span>
<span class="t n" style="left:155px;top:1004px;font-size:12.2px;line-height:15px;color:#2a2a2a;transform:translate(0.21px,0.58px) scaleX(0.853);transform-origin:50% 0;">60</span>
<span class="t n" style="left:175px;top:1004px;font-size:12.2px;line-height:15px;color:#2a2a2a;transform:translate(0.84px,0.58px) scaleX(0.853);transform-origin:50% 0;">65</span>
<span class="t n" style="left:190px;top:1004px;font-size:12.2px;line-height:15px;color:#2a2a2a;transform:translate(0.65px,0.58px) scaleX(0.782);transform-origin:50% 0;">M39*1.5</span>
<span class="t n" style="left:237px;top:1004px;font-size:12.2px;line-height:15px;color:#2a2a2a;transform:translate(0.21px,0.58px) scaleX(0.853);transform-origin:50% 0;">45</span>
<span class="t n" style="left:256px;top:1004px;font-size:12.2px;line-height:15px;color:#2a2a2a;transform:translate(0.59px,0.58px) scaleX(0.853);transform-origin:50% 0;">41</span>
<span class="t n" style="left:274px;top:1004px;font-size:12.2px;line-height:15px;color:#2a2a2a;transform:translate(0.09px,0.58px) scaleX(0.853);transform-origin:50% 0;">45</span>
<span class="t n" style="left:292px;top:1004px;font-size:12.2px;line-height:15px;color:#2a2a2a;transform:translate(0.71px,0.58px) scaleX(0.853);transform-origin:50% 0;">55</span>
<span class="t n" style="left:306px;top:1004px;font-size:12.2px;line-height:15px;color:#2a2a2a;transform:translate(0.65px,0.58px) scaleX(0.782);transform-origin:50% 0;">M30*1.5</span>
<span class="t n" style="left:348px;top:1004px;font-size:12.2px;line-height:15px;color:#2a2a2a;transform:translate(0.38px,0.58px) scaleX(0.851);transform-origin:50% 0;">35.5</span>
<span class="t n" style="left:373px;top:1004px;font-size:12.2px;line-height:15px;color:#2a2a2a;transform:translate(0.96px,0.58px) scaleX(0.853);transform-origin:50% 0;">32</span>
<span class="t n" style="left:394px;top:1004px;font-size:12.2px;line-height:15px;color:#2a2a2a;transform:translate(0.46px,0.58px) scaleX(0.853);transform-origin:50% 0;">20</span>
<span class="t n" style="left:415px;top:1004px;font-size:12.2px;line-height:15px;color:#2a2a2a;transform:translate(0.03px,0.58px) scaleX(0.782);transform-origin:50% 0;">M16*1.5</span>
<span class="t n" style="left:465px;top:1004px;font-size:12.2px;line-height:15px;color:#2a2a2a;transform:translate(0.27px,0.58px) scaleX(0.853);transform-origin:50% 0;">110</span>
<span class="t n" style="left:491px;top:1004px;font-size:12.2px;line-height:15px;color:#2a2a2a;transform:translate(0.56px,0.58px) scaleX(0.770);transform-origin:50% 0;">Rc3/4</span>
<span class="t n" style="left:531px;top:1004px;font-size:12.2px;line-height:15px;color:#2a2a2a;transform:translate(0.46px,0.58px) scaleX(0.853);transform-origin:50% 0;">18</span>
<span class="t n" style="left:551px;top:1004px;font-size:12.2px;line-height:15px;color:#2a2a2a;transform:translate(0.84px,0.58px) scaleX(0.853);transform-origin:50% 0;">18</span>
<span class="t n" style="left:569px;top:1004px;font-size:12.2px;line-height:15px;color:#2a2a2a;transform:translate(0.52px,0.58px) scaleX(0.853);transform-origin:50% 0;">118</span>
<span class="t n" style="left:592px;top:1004px;font-size:12.2px;line-height:15px;color:#2a2a2a;transform:translate(0.96px,0.58px) scaleX(0.853);transform-origin:50% 0;">66</span>
<span class="t n" style="left:610px;top:1004px;font-size:12.2px;line-height:15px;color:#2a2a2a;transform:translate(0.07px,0.58px) scaleX(0.853);transform-origin:50% 0;">184</span>
<span class="t n" style="left:630px;top:1004px;font-size:12.2px;line-height:15px;color:#2a2a2a;transform:translate(0.70px,0.58px) scaleX(0.853);transform-origin:50% 0;">166</span>
<span class="t n" style="left:651px;top:1004px;font-size:12.2px;line-height:15px;color:#2a2a2a;transform:translate(0.20px,0.58px) scaleX(0.853);transform-origin:50% 0;">222</span>
<span class="t n" style="left:674px;top:1004px;font-size:12.2px;line-height:15px;color:#2a2a2a;transform:translate(0.96px,0.58px) scaleX(0.853);transform-origin:50% 0;">87</span>
<span class="t n" style="left:692px;top:1004px;font-size:12.2px;line-height:15px;color:#2a2a2a;transform:translate(0.07px,0.58px) scaleX(0.853);transform-origin:50% 0;">155</span>
<span class="t n" style="left:712px;top:1004px;font-size:12.2px;line-height:15px;color:#2a2a2a;transform:translate(0.57px,0.58px) scaleX(0.853);transform-origin:50% 0;">190</span>
<span class="t n" style="left:736px;top:1004px;font-size:12.2px;line-height:15px;color:#2a2a2a;transform:translate(0.46px,0.58px) scaleX(0.853);transform-origin:50% 0;">35</span>
<span class="t n" style="left:757px;top:1004px;font-size:12.2px;line-height:15px;color:#2a2a2a;transform:translate(0.71px,0.58px) scaleX(0.853);transform-origin:50% 0;">53</span>
<span class="t n" style="left:778px;top:1004px;font-size:12.2px;line-height:15px;color:#2a2a2a;transform:translate(0.09px,0.58px) scaleX(0.853);transform-origin:50% 0;">38</span>
<span class="t n" style="left:794px;top:1004px;font-size:12.2px;line-height:15px;color:#2a2a2a;transform:translate(0.32px,0.58px) scaleX(0.853);transform-origin:50% 0;">257</span>
<span class="t" style="left:109px;top:1027px;font-size:10.3px;line-height:12px;color:#222;font-weight:bold;transform:translate(0.23px,0.15px) scaleX(0.992);transform-origin:50% 0;white-space:pre;">Ø100</span>
<span class="t n" style="left:155px;top:1025px;font-size:12.2px;line-height:15px;color:#2a2a2a;transform:translate(0.21px,0.75px) scaleX(0.853);transform-origin:50% 0;">75</span>
<span class="t n" style="left:175px;top:1025px;font-size:12.2px;line-height:15px;color:#2a2a2a;transform:translate(0.84px,0.75px) scaleX(0.853);transform-origin:50% 0;">80</span>
<span class="t n" style="left:190px;top:1025px;font-size:12.2px;line-height:15px;color:#2a2a2a;transform:translate(0.65px,0.75px) scaleX(0.782);transform-origin:50% 0;">M48*1.5</span>
<span class="t n" style="left:237px;top:1025px;font-size:12.2px;line-height:15px;color:#2a2a2a;transform:translate(0.21px,0.75px) scaleX(0.853);transform-origin:50% 0;">56</span>
<span class="t n" style="left:256px;top:1025px;font-size:12.2px;line-height:15px;color:#2a2a2a;transform:translate(0.59px,0.75px) scaleX(0.853);transform-origin:50% 0;">50</span>
<span class="t n" style="left:274px;top:1025px;font-size:12.2px;line-height:15px;color:#2a2a2a;transform:translate(0.09px,0.75px) scaleX(0.853);transform-origin:50% 0;">60</span>
<span class="t n" style="left:292px;top:1025px;font-size:12.2px;line-height:15px;color:#2a2a2a;transform:translate(0.71px,0.75px) scaleX(0.853);transform-origin:50% 0;">65</span>
<span class="t n" style="left:306px;top:1025px;font-size:12.2px;line-height:15px;color:#2a2a2a;transform:translate(0.65px,0.75px) scaleX(0.782);transform-origin:50% 0;">M39*1.5</span>
<span class="t n" style="left:353px;top:1025px;font-size:12.2px;line-height:15px;color:#2a2a2a;transform:translate(0.46px,0.75px) scaleX(0.853);transform-origin:50% 0;">45</span>
<span class="t n" style="left:373px;top:1025px;font-size:12.2px;line-height:15px;color:#2a2a2a;transform:translate(0.96px,0.75px) scaleX(0.853);transform-origin:50% 0;">41</span>
<span class="t n" style="left:394px;top:1025px;font-size:12.2px;line-height:15px;color:#2a2a2a;transform:translate(0.46px,0.75px) scaleX(0.853);transform-origin:50% 0;">24</span>
<span class="t n" style="left:415px;top:1025px;font-size:12.2px;line-height:15px;color:#2a2a2a;transform:translate(0.03px,0.75px) scaleX(0.782);transform-origin:50% 0;">M18*1.5</span>
<span class="t n" style="left:464px;top:1025px;font-size:12.2px;line-height:15px;color:#2a2a2a;transform:translate(0.82px,0.75px) scaleX(0.853);transform-origin:50% 0;">135</span>
<span class="t n" style="left:491px;top:1025px;font-size:12.2px;line-height:15px;color:#2a2a2a;transform:translate(0.56px,0.75px) scaleX(0.770);transform-origin:50% 0;">Rc3/4</span>
<span class="t n" style="left:531px;top:1025px;font-size:12.2px;line-height:15px;color:#2a2a2a;transform:translate(0.46px,0.75px) scaleX(0.853);transform-origin:50% 0;">20</span>
<span class="t n" style="left:551px;top:1025px;font-size:12.2px;line-height:15px;color:#2a2a2a;transform:translate(0.84px,0.75px) scaleX(0.853);transform-origin:50% 0;">22</span>
<span class="t n" style="left:569px;top:1025px;font-size:12.2px;line-height:15px;color:#2a2a2a;transform:translate(0.07px,0.75px) scaleX(0.853);transform-origin:50% 0;">150</span>
<span class="t n" style="left:592px;top:1025px;font-size:12.2px;line-height:15px;color:#2a2a2a;transform:translate(0.96px,0.75px) scaleX(0.853);transform-origin:50% 0;">72</span>
<span class="t n" style="left:610px;top:1025px;font-size:12.2px;line-height:15px;color:#2a2a2a;transform:translate(0.07px,0.75px) scaleX(0.853);transform-origin:50% 0;">192</span>
<span class="t n" style="left:630px;top:1025px;font-size:12.2px;line-height:15px;color:#2a2a2a;transform:translate(0.70px,0.75px) scaleX(0.853);transform-origin:50% 0;">172</span>
<span class="t n" style="left:651px;top:1025px;font-size:12.2px;line-height:15px;color:#2a2a2a;transform:translate(0.20px,0.75px) scaleX(0.853);transform-origin:50% 0;">232</span>
<span class="t n" style="left:671px;top:1025px;font-size:12.2px;line-height:15px;color:#2a2a2a;transform:translate(0.57px,0.75px) scaleX(0.853);transform-origin:50% 0;">109</span>
<span class="t n" style="left:692px;top:1025px;font-size:12.2px;line-height:15px;color:#2a2a2a;transform:translate(0.07px,0.75px) scaleX(0.853);transform-origin:50% 0;">190</span>
<span class="t n" style="left:712px;top:1025px;font-size:12.2px;line-height:15px;color:#2a2a2a;transform:translate(0.57px,0.75px) scaleX(0.853);transform-origin:50% 0;">230</span>
<span class="t n" style="left:736px;top:1025px;font-size:12.2px;line-height:15px;color:#2a2a2a;transform:translate(0.46px,0.75px) scaleX(0.853);transform-origin:50% 0;">40</span>
<span class="t n" style="left:757px;top:1025px;font-size:12.2px;line-height:15px;color:#2a2a2a;transform:translate(0.71px,0.75px) scaleX(0.853);transform-origin:50% 0;">60</span>
<span class="t n" style="left:778px;top:1025px;font-size:12.2px;line-height:15px;color:#2a2a2a;transform:translate(0.09px,0.75px) scaleX(0.853);transform-origin:50% 0;">38</span>
<span class="t n" style="left:794px;top:1025px;font-size:12.2px;line-height:15px;color:#2a2a2a;transform:translate(0.32px,0.75px) scaleX(0.853);transform-origin:50% 0;">272</span>
</div>
<div class="b" style="left:93.10px;top:1078.80px;width:597.30px;height:1.00px;background:#8c8c8c;"></div>
<div class="b" style="left:93.10px;top:1093.60px;width:597.30px;height:1.00px;background:#8c8c8c;"></div>
<div class="b" style="left:93.10px;top:1107.40px;width:597.30px;height:1.00px;background:#8c8c8c;"></div>
<div class="b" style="left:93.10px;top:1079.30px;width:1.00px;height:28.60px;background:#8c8c8c;"></div>
<div class="b" style="left:172.30px;top:1079.30px;width:1.00px;height:28.60px;background:#8c8c8c;"></div>
<div class="b" style="left:212.00px;top:1079.30px;width:1.00px;height:28.60px;background:#8c8c8c;"></div>
<div class="b" style="left:264.70px;top:1079.30px;width:1.00px;height:28.60px;background:#8c8c8c;"></div>
<div class="b" style="left:320.50px;top:1079.30px;width:1.00px;height:28.60px;background:#8c8c8c;"></div>
<div class="b" style="left:381.50px;top:1079.30px;width:1.00px;height:28.60px;background:#8c8c8c;"></div>
<div class="b" style="left:464.40px;top:1079.30px;width:1.00px;height:28.60px;background:#8c8c8c;"></div>
<div class="b" style="left:548.10px;top:1079.30px;width:1.00px;height:28.60px;background:#8c8c8c;"></div>
<div class="b" style="left:605.00px;top:1079.30px;width:1.00px;height:28.60px;background:#8c8c8c;"></div>
<div class="b" style="left:689.40px;top:1079.30px;width:1.00px;height:28.60px;background:#8c8c8c;"></div>
<span class="t" style="left:96px;top:1080px;font-size:10.5px;line-height:13px;color:#1d1d1d;font-weight:bold;font-style:italic;transform:translate(0.00px,0.20px) scaleX(0.785);transform-origin:0 0;-webkit-text-stroke:0.2px #1d1d1d;">* SİPARİŞ ÖRNEĞİ</span>
<span class="t" style="left:179px;top:1080px;font-size:10.5px;line-height:13px;color:#1d1d1d;font-weight:bold;font-style:italic;transform:translate(0.70px,0.20px) scaleX(0.854);transform-origin:0 0;-webkit-text-stroke:0.2px #1d1d1d;">Model</span>
<span class="t" style="left:215px;top:1080px;font-size:10.5px;line-height:13px;color:#1d1d1d;font-weight:bold;font-style:italic;transform:translate(0.20px,0.20px) scaleX(0.842);transform-origin:0 0;-webkit-text-stroke:0.2px #1d1d1d;">Montaj Tipi</span>
<span class="t" style="left:271px;top:1080px;font-size:10.5px;line-height:13px;color:#1d1d1d;font-weight:bold;font-style:italic;transform:translate(0.00px,0.20px) scaleX(0.780);transform-origin:0 0;-webkit-text-stroke:0.2px #1d1d1d;">Silindir İç Ø</span>
<span class="t" style="left:324px;top:1080px;font-size:10.5px;line-height:13px;color:#1d1d1d;font-weight:bold;font-style:italic;transform:translate(0.40px,0.20px) scaleX(0.814);transform-origin:0 0;-webkit-text-stroke:0.2px #1d1d1d;">Hareket Boyu</span>
<span class="t" style="left:385px;top:1080px;font-size:10.5px;line-height:13px;color:#1d1d1d;font-weight:bold;font-style:italic;transform:translate(0.00px,0.20px) scaleX(0.777);transform-origin:0 0;-webkit-text-stroke:0.2px #1d1d1d;">Piston Dayama Poz.</span>
<span class="t" style="left:468px;top:1080px;font-size:10.5px;line-height:13px;color:#1d1d1d;font-weight:bold;font-style:italic;transform:translate(0.40px,0.20px) scaleX(0.789);transform-origin:0 0;-webkit-text-stroke:0.2px #1d1d1d;">Rekor Bağlantı Poz.</span>
<span class="t" style="left:552px;top:1080px;font-size:10.5px;line-height:13px;color:#1d1d1d;font-weight:bold;font-style:italic;transform:translate(0.00px,0.20px) scaleX(0.783);transform-origin:0 0;-webkit-text-stroke:0.2px #1d1d1d;">Çek valf Poz.</span>
<span class="t" style="left:612px;top:1080px;font-size:10.5px;line-height:13px;color:#1d1d1d;font-weight:bold;font-style:italic;transform:translate(0.40px,0.20px) scaleX(0.772);transform-origin:0 0;-webkit-text-stroke:0.2px #1d1d1d;">Çalışma Basınç/Bar</span>
<span class="t" style="left:112px;top:1095px;font-size:10.5px;line-height:13px;color:#1d1d1d;font-weight:bold;font-style:italic;transform:translate(0.60px,0.00px) scaleX(0.817);transform-origin:0 0;-webkit-text-stroke:0.2px #1d1d1d;">Örnek</span>
<span class="t" style="left:181px;top:1095px;font-size:10.5px;line-height:13px;color:#1d1d1d;font-weight:bold;font-style:italic;transform:translate(0.50px,0.00px) scaleX(0.744);transform-origin:0 0;-webkit-text-stroke:0.2px #1d1d1d;">GBHC</span>
<span class="t" style="left:230px;top:1095px;font-size:10.5px;line-height:13px;color:#1d1d1d;font-weight:bold;font-style:italic;transform:translate(0.40px,0.00px) scaleX(0.727);transform-origin:0 0;-webkit-text-stroke:0.2px #1d1d1d;">SD</span>
<span class="t" style="left:279px;top:1095px;font-size:10.5px;line-height:13px;color:#1d1d1d;font-weight:bold;font-style:italic;transform:translate(0.00px,0.00px) scaleX(0.809);transform-origin:0 0;-webkit-text-stroke:0.2px #1d1d1d;">063 mm.</span>
<span class="t" style="left:329px;top:1095px;font-size:10.5px;line-height:13px;color:#1d1d1d;font-weight:bold;font-style:italic;transform:translate(0.60px,0.00px) scaleX(0.806);transform-origin:0 0;-webkit-text-stroke:0.2px #1d1d1d;">0150 mm.</span>
<span class="t" style="left:418px;top:1095px;font-size:10.5px;line-height:13px;color:#1d1d1d;font-weight:bold;font-style:italic;transform:translate(0.00px,0.00px) scaleX(0.659);transform-origin:0 0;-webkit-text-stroke:0.2px #1d1d1d;">N</span>
<span class="t" style="left:506px;top:1095px;font-size:10.5px;line-height:13px;color:#1d1d1d;font-weight:bold;font-style:italic;transform:translate(0.50px,0.00px) scaleX(0.659);transform-origin:0 0;-webkit-text-stroke:0.2px #1d1d1d;">A</span>
<span class="t" style="left:578px;top:1095px;font-size:10.5px;line-height:13px;color:#1d1d1d;font-weight:bold;font-style:italic;transform:translate(0.00px,0.00px) scaleX(0.659);transform-origin:0 0;-webkit-text-stroke:0.2px #1d1d1d;">B</span>
<span class="t" style="left:626px;top:1095px;font-size:10.5px;line-height:13px;color:#1d1d1d;font-weight:bold;font-style:italic;transform:translate(0.00px,0.00px) scaleX(0.771);transform-origin:0 0;-webkit-text-stroke:0.2px #1d1d1d;">140</span>
<span class="t" style="left:641px;top:1098px;font-size:7.5px;line-height:9px;color:#1d1d1d;font-weight:bold;font-style:italic;transform:translate(0.50px,0.00px) scaleX(0.853);transform-origin:0 0;">kg/cm</span>
<span class="t" style="left:660px;top:1096px;font-size:5px;line-height:6px;color:#1d1d1d;font-weight:bold;font-style:italic;transform:translate(0.30px,0.50px) scaleX(1.000);transform-origin:0 0;">2</span>
<span class="t" style="left:415px;top:1043px;font-size:12px;line-height:14px;color:#2a2a2a;transform:translate(0.95px,0.00px) scaleX(0.847);transform-origin:100% 0;">Doğru akım: 10-30 V (1 Amper), Alternatif akım : 10-240 V (Şehir cereyanı)</span>
</div>
</body>
</html>
